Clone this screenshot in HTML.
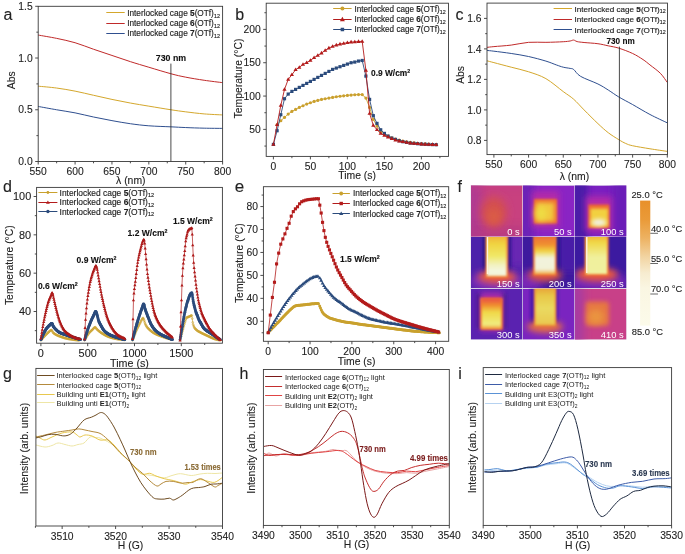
<!DOCTYPE html>
<html><head><meta charset="utf-8"><style>
html,body{margin:0;padding:0;background:#fff;}
svg{display:block;will-change:transform;}
text{font-family:"Liberation Sans", sans-serif;stroke-width:0.1px;}
</style></head><body>
<svg width="685" height="554" viewBox="0 0 685 554">
<rect width="685" height="554" fill="#fff"/>
<g>
<text x="3.5" y="19.5" font-size="16" text-anchor="start" font-weight="normal" fill="#222" stroke="#222" >a</text>
<path d="M38.2,86.18 C41.27,86.49 50.49,87.21 56.64,88.04 C62.79,88.87 68.93,89.94 75.08,91.14 C81.23,92.35 87.37,93.9 93.52,95.28 C99.67,96.66 105.81,98.13 111.96,99.42 C118.11,100.71 124.25,101.92 130.4,103.04 C136.55,104.16 142.08,105.02 148.84,106.15 C155.6,107.27 164.82,108.82 170.97,109.77 C177.11,110.72 180.19,111.15 185.72,111.84 C191.25,112.53 198.01,113.39 204.16,113.91 C210.31,114.42 219.53,114.77 222.6,114.94" stroke="#d4a72c" stroke-width="1" fill="none"/>
<path d="M38.2,35.06 C41.27,35.62 50.49,37.1 56.64,38.37 C62.79,39.65 68.93,40.91 75.08,42.72 C81.23,44.53 87.37,47.12 93.52,49.24 C99.67,51.36 105.81,53.38 111.96,55.45 C118.11,57.52 124.25,59.69 130.4,61.65 C136.55,63.62 142.08,65.22 148.84,67.24 C155.6,69.26 164.82,72.1 170.97,73.76 C177.11,75.42 180.19,76.09 185.72,77.17 C191.25,78.26 198.01,79.36 204.16,80.28 C210.31,81.19 219.53,82.26 222.6,82.66" stroke="#c02a2a" stroke-width="1" fill="none"/>
<path d="M38.2,106.46 C41.27,107.01 50.49,108.7 56.64,109.77 C62.79,110.84 68.93,111.66 75.08,112.87 C81.23,114.08 87.37,115.72 93.52,117.01 C99.67,118.3 105.81,119.51 111.96,120.63 C118.11,121.75 124.25,122.87 130.4,123.73 C136.55,124.6 142.08,125.29 148.84,125.8 C155.6,126.32 164.82,126.55 170.97,126.84 C177.11,127.13 180.19,127.34 185.72,127.56 C191.25,127.79 198.01,128.05 204.16,128.18 C210.31,128.32 219.53,128.36 222.6,128.39" stroke="#2f4f8f" stroke-width="1" fill="none"/>
<path d="M170.9,63.6V161.5" stroke="#2a2a2a" stroke-width="0.85"/>
<text x="170.97" y="61.2" font-size="8.8" text-anchor="middle" font-weight="bold" fill="#111" stroke="#111" >730 nm</text>
<path d="M106.3,12.5H124.7" stroke="#d4a72c" stroke-width="1.0"/>
<text x="127.2" y="15.8" font-size="8.26" fill="#222" stroke="#222" style="stroke-width:0.14px">Interlocked cage <tspan font-weight="bold">5</tspan>(OTf)<tspan font-size="5.45" dy="1.8">12</tspan></text>
<path d="M106.3,23.5H124.7" stroke="#c02a2a" stroke-width="1.0"/>
<text x="127.2" y="26.4" font-size="8.26" fill="#222" stroke="#222" style="stroke-width:0.14px">Interlocked cage <tspan font-weight="bold">6</tspan>(OTf)<tspan font-size="5.45" dy="1.8">12</tspan></text>
<path d="M106.3,33.5H124.7" stroke="#2f4f8f" stroke-width="1.0"/>
<text x="127.2" y="36.3" font-size="8.26" fill="#222" stroke="#222" style="stroke-width:0.14px">Interlocked cage <tspan font-weight="bold">7</tspan>(OTf)<tspan font-size="5.45" dy="1.8">12</tspan></text>
<rect x="38.2" y="6.3" width="184.4" height="155.2" fill="none" stroke="#3a3a3a" stroke-width="0.9"/>
<path d="M38.2,161.5v3 M75.08,161.5v3 M111.96,161.5v3 M148.84,161.5v3 M185.72,161.5v3 M222.6,161.5v3 M56.64,161.5v1.8 M93.52,161.5v1.8 M130.4,161.5v1.8 M167.28,161.5v1.8 M204.16,161.5v1.8" stroke="#3a3a3a" stroke-width="0.9" fill="none"/>
<text x="38.2" y="175.1" font-size="10.3" text-anchor="middle" font-weight="normal" fill="#222" stroke="#222" >550</text>
<text x="75.08" y="175.1" font-size="10.3" text-anchor="middle" font-weight="normal" fill="#222" stroke="#222" >600</text>
<text x="111.96" y="175.1" font-size="10.3" text-anchor="middle" font-weight="normal" fill="#222" stroke="#222" >650</text>
<text x="148.84" y="175.1" font-size="10.3" text-anchor="middle" font-weight="normal" fill="#222" stroke="#222" >700</text>
<text x="185.72" y="175.1" font-size="10.3" text-anchor="middle" font-weight="normal" fill="#222" stroke="#222" >750</text>
<text x="222.6" y="175.1" font-size="10.3" text-anchor="middle" font-weight="normal" fill="#222" stroke="#222" >800</text>
<path d="M38.2,161.5h-3 M38.2,109.77h-3 M38.2,58.03h-3 M38.2,6.3h-3 M38.2,135.63h-1.8 M38.2,83.9h-1.8 M38.2,32.17h-1.8" stroke="#3a3a3a" stroke-width="0.9" fill="none"/>
<text x="32.7" y="165.2" font-size="10.3" text-anchor="end" font-weight="normal" fill="#222" stroke="#222" >0.0</text>
<text x="32.7" y="113.47" font-size="10.3" text-anchor="end" font-weight="normal" fill="#222" stroke="#222" >0.5</text>
<text x="32.7" y="61.73" font-size="10.3" text-anchor="end" font-weight="normal" fill="#222" stroke="#222" >1.0</text>
<text x="32.7" y="10" font-size="10.3" text-anchor="end" font-weight="normal" fill="#222" stroke="#222" >1.5</text>
<text x="0" y="0" transform="translate(15,80.2) rotate(-90)" font-size="10.4" text-anchor="middle" fill="#222" stroke="#222">Abs</text>
<text x="130.8" y="184.4" font-size="10.4" text-anchor="middle" font-weight="normal" fill="#222" stroke="#222" >λ (nm)</text>
</g>
<g>
<text x="235.3" y="19.5" font-size="16" text-anchor="start" font-weight="normal" fill="#222" stroke="#222" >b</text>
<path d="M277.1,124.73 L280.8,120.73 L284.5,117.4 L288.2,114.07 L291.9,111.4 L295.6,109.4 L299.3,107.4 L303,105.73 L306.7,104.07 L310.4,102.73 L314.1,101.4 L317.8,100.4 L321.5,99.4 L325.2,98.73 L328.9,98.07 L332.6,97.4 L336.3,96.73 L340,96.27 L343.7,95.87 L347.4,95.4 L351.1,95.07 L354.8,94.73 L358.5,94.6 L362.2,94.6 L365.9,98.07 L369.6,107.4 L373.3,119.4 L377,126.07 L380.7,131.4 L384.4,134.07 L388.1,136.07 L391.8,137.73 L395.5,139.07 L399.2,140.07 L402.9,141.07 L406.6,141.73 L410.3,142.4 L414,142.87 L417.7,143.27 L421.4,143.67 L425.1,143.93 L428.8,144.2 L432.5,144.4 L436.2,144.6" stroke="#caa02e" stroke-width="0.9" fill="none"/>
<circle cx="277.1" cy="124.73" r="1.6" fill="#caa02e"/>
<circle cx="280.8" cy="120.73" r="1.6" fill="#caa02e"/>
<circle cx="284.5" cy="117.4" r="1.6" fill="#caa02e"/>
<circle cx="288.2" cy="114.07" r="1.6" fill="#caa02e"/>
<circle cx="291.9" cy="111.4" r="1.6" fill="#caa02e"/>
<circle cx="295.6" cy="109.4" r="1.6" fill="#caa02e"/>
<circle cx="299.3" cy="107.4" r="1.6" fill="#caa02e"/>
<circle cx="303" cy="105.73" r="1.6" fill="#caa02e"/>
<circle cx="306.7" cy="104.07" r="1.6" fill="#caa02e"/>
<circle cx="310.4" cy="102.73" r="1.6" fill="#caa02e"/>
<circle cx="314.1" cy="101.4" r="1.6" fill="#caa02e"/>
<circle cx="317.8" cy="100.4" r="1.6" fill="#caa02e"/>
<circle cx="321.5" cy="99.4" r="1.6" fill="#caa02e"/>
<circle cx="325.2" cy="98.73" r="1.6" fill="#caa02e"/>
<circle cx="328.9" cy="98.07" r="1.6" fill="#caa02e"/>
<circle cx="332.6" cy="97.4" r="1.6" fill="#caa02e"/>
<circle cx="336.3" cy="96.73" r="1.6" fill="#caa02e"/>
<circle cx="340" cy="96.27" r="1.6" fill="#caa02e"/>
<circle cx="343.7" cy="95.87" r="1.6" fill="#caa02e"/>
<circle cx="347.4" cy="95.4" r="1.6" fill="#caa02e"/>
<circle cx="351.1" cy="95.07" r="1.6" fill="#caa02e"/>
<circle cx="354.8" cy="94.73" r="1.6" fill="#caa02e"/>
<circle cx="358.5" cy="94.6" r="1.6" fill="#caa02e"/>
<circle cx="362.2" cy="94.6" r="1.6" fill="#caa02e"/>
<circle cx="365.9" cy="98.07" r="1.6" fill="#caa02e"/>
<circle cx="369.6" cy="107.4" r="1.6" fill="#caa02e"/>
<circle cx="373.3" cy="119.4" r="1.6" fill="#caa02e"/>
<circle cx="377" cy="126.07" r="1.6" fill="#caa02e"/>
<circle cx="380.7" cy="131.4" r="1.6" fill="#caa02e"/>
<circle cx="384.4" cy="134.07" r="1.6" fill="#caa02e"/>
<circle cx="388.1" cy="136.07" r="1.6" fill="#caa02e"/>
<circle cx="391.8" cy="137.73" r="1.6" fill="#caa02e"/>
<circle cx="395.5" cy="139.07" r="1.6" fill="#caa02e"/>
<circle cx="399.2" cy="140.07" r="1.6" fill="#caa02e"/>
<circle cx="402.9" cy="141.07" r="1.6" fill="#caa02e"/>
<circle cx="406.6" cy="141.73" r="1.6" fill="#caa02e"/>
<circle cx="410.3" cy="142.4" r="1.6" fill="#caa02e"/>
<circle cx="414" cy="142.87" r="1.6" fill="#caa02e"/>
<circle cx="417.7" cy="143.27" r="1.6" fill="#caa02e"/>
<circle cx="421.4" cy="143.67" r="1.6" fill="#caa02e"/>
<circle cx="425.1" cy="143.93" r="1.6" fill="#caa02e"/>
<circle cx="428.8" cy="144.2" r="1.6" fill="#caa02e"/>
<circle cx="432.5" cy="144.4" r="1.6" fill="#caa02e"/>
<circle cx="436.2" cy="144.6" r="1.6" fill="#caa02e"/>
<path d="M273.4,144.4 L277.1,130.73 L280.8,114.73 L284.5,98.73 L288.2,94.07 L291.9,91.4 L295.6,89.4 L299.3,87.4 L303,85.4 L306.7,83.4 L310.4,81.4 L314.1,79.4 L317.8,77.4 L321.5,75.4 L325.2,73.4 L328.9,71.4 L332.6,69.4 L336.3,68.07 L340,66.73 L343.7,65.4 L347.4,64.07 L351.1,62.73 L354.8,62.07 L358.5,61.07 L362.2,60.47 L365.9,76.07 L369.6,99.4 L373.3,115.67 L377,123.4 L380.7,129.8 L384.4,133.4 L388.1,136.07 L391.8,138.07 L395.5,139.4 L399.2,140.73 L402.9,141.73 L406.6,142.4 L410.3,143.07 L414,143.4 L417.7,143.73 L421.4,144.07 L425.1,144.27 L428.8,144.47 L432.5,144.6 L436.2,144.73" stroke="#2b4b7c" stroke-width="0.9" fill="none"/>
<rect x="271.8" y="142.8" width="3.2" height="3.2" fill="#2b4b7c"/>
<rect x="275.5" y="129.13" width="3.2" height="3.2" fill="#2b4b7c"/>
<rect x="279.2" y="113.13" width="3.2" height="3.2" fill="#2b4b7c"/>
<rect x="282.9" y="97.13" width="3.2" height="3.2" fill="#2b4b7c"/>
<rect x="286.6" y="92.47" width="3.2" height="3.2" fill="#2b4b7c"/>
<rect x="290.3" y="89.8" width="3.2" height="3.2" fill="#2b4b7c"/>
<rect x="294" y="87.8" width="3.2" height="3.2" fill="#2b4b7c"/>
<rect x="297.7" y="85.8" width="3.2" height="3.2" fill="#2b4b7c"/>
<rect x="301.4" y="83.8" width="3.2" height="3.2" fill="#2b4b7c"/>
<rect x="305.1" y="81.8" width="3.2" height="3.2" fill="#2b4b7c"/>
<rect x="308.8" y="79.8" width="3.2" height="3.2" fill="#2b4b7c"/>
<rect x="312.5" y="77.8" width="3.2" height="3.2" fill="#2b4b7c"/>
<rect x="316.2" y="75.8" width="3.2" height="3.2" fill="#2b4b7c"/>
<rect x="319.9" y="73.8" width="3.2" height="3.2" fill="#2b4b7c"/>
<rect x="323.6" y="71.8" width="3.2" height="3.2" fill="#2b4b7c"/>
<rect x="327.3" y="69.8" width="3.2" height="3.2" fill="#2b4b7c"/>
<rect x="331" y="67.8" width="3.2" height="3.2" fill="#2b4b7c"/>
<rect x="334.7" y="66.47" width="3.2" height="3.2" fill="#2b4b7c"/>
<rect x="338.4" y="65.13" width="3.2" height="3.2" fill="#2b4b7c"/>
<rect x="342.1" y="63.8" width="3.2" height="3.2" fill="#2b4b7c"/>
<rect x="345.8" y="62.47" width="3.2" height="3.2" fill="#2b4b7c"/>
<rect x="349.5" y="61.13" width="3.2" height="3.2" fill="#2b4b7c"/>
<rect x="353.2" y="60.47" width="3.2" height="3.2" fill="#2b4b7c"/>
<rect x="356.9" y="59.47" width="3.2" height="3.2" fill="#2b4b7c"/>
<rect x="360.6" y="58.87" width="3.2" height="3.2" fill="#2b4b7c"/>
<rect x="364.3" y="74.47" width="3.2" height="3.2" fill="#2b4b7c"/>
<rect x="368" y="97.8" width="3.2" height="3.2" fill="#2b4b7c"/>
<rect x="371.7" y="114.07" width="3.2" height="3.2" fill="#2b4b7c"/>
<rect x="375.4" y="121.8" width="3.2" height="3.2" fill="#2b4b7c"/>
<rect x="379.1" y="128.2" width="3.2" height="3.2" fill="#2b4b7c"/>
<rect x="382.8" y="131.8" width="3.2" height="3.2" fill="#2b4b7c"/>
<rect x="386.5" y="134.47" width="3.2" height="3.2" fill="#2b4b7c"/>
<rect x="390.2" y="136.47" width="3.2" height="3.2" fill="#2b4b7c"/>
<rect x="393.9" y="137.8" width="3.2" height="3.2" fill="#2b4b7c"/>
<rect x="397.6" y="139.13" width="3.2" height="3.2" fill="#2b4b7c"/>
<rect x="401.3" y="140.13" width="3.2" height="3.2" fill="#2b4b7c"/>
<rect x="405" y="140.8" width="3.2" height="3.2" fill="#2b4b7c"/>
<rect x="408.7" y="141.47" width="3.2" height="3.2" fill="#2b4b7c"/>
<rect x="412.4" y="141.8" width="3.2" height="3.2" fill="#2b4b7c"/>
<rect x="416.1" y="142.13" width="3.2" height="3.2" fill="#2b4b7c"/>
<rect x="419.8" y="142.47" width="3.2" height="3.2" fill="#2b4b7c"/>
<rect x="423.5" y="142.67" width="3.2" height="3.2" fill="#2b4b7c"/>
<rect x="427.2" y="142.87" width="3.2" height="3.2" fill="#2b4b7c"/>
<rect x="430.9" y="143" width="3.2" height="3.2" fill="#2b4b7c"/>
<rect x="434.6" y="143.13" width="3.2" height="3.2" fill="#2b4b7c"/>
<path d="M273.4,144.4 L277.1,124.73 L280.8,105.4 L284.5,89.4 L288.2,79.4 L291.9,74.73 L295.6,69.73 L299.3,67.4 L303,64.4 L306.7,62.73 L310.4,60.4 L314.1,57.73 L317.8,55.4 L321.5,53.07 L325.2,50.4 L328.9,48.07 L332.6,46.4 L336.3,45.07 L340,44.07 L343.7,43.4 L347.4,42.73 L351.1,42.07 L354.8,41.93 L358.5,41.53 L362.2,41.4 L365.9,70.4 L369.6,113.4 L373.3,125.4 L377,129.73 L380.7,133.4 L384.4,135.4 L388.1,137.07 L391.8,138.73 L395.5,140.07 L399.2,141.07 L402.9,141.73 L406.6,142.4 L410.3,143.07 L414,143.4 L417.7,143.73 L421.4,144.07 L425.1,144.27 L428.8,144.47 L432.5,144.6 L436.2,144.73" stroke="#b31b1b" stroke-width="0.9" fill="none"/>
<path d="M273.4,142.13L275.5,145.79L271.3,145.79Z" fill="#b31b1b"/>
<path d="M277.1,122.47L279.2,126.12L275,126.12Z" fill="#b31b1b"/>
<path d="M280.8,103.13L282.9,106.79L278.7,106.79Z" fill="#b31b1b"/>
<path d="M284.5,87.13L286.6,90.79L282.4,90.79Z" fill="#b31b1b"/>
<path d="M288.2,77.13L290.3,80.79L286.1,80.79Z" fill="#b31b1b"/>
<path d="M291.9,72.47L294,76.12L289.8,76.12Z" fill="#b31b1b"/>
<path d="M295.6,67.47L297.7,71.12L293.5,71.12Z" fill="#b31b1b"/>
<path d="M299.3,65.13L301.4,68.79L297.2,68.79Z" fill="#b31b1b"/>
<path d="M303,62.13L305.1,65.79L300.9,65.79Z" fill="#b31b1b"/>
<path d="M306.7,60.47L308.8,64.12L304.6,64.12Z" fill="#b31b1b"/>
<path d="M310.4,58.13L312.5,61.79L308.3,61.79Z" fill="#b31b1b"/>
<path d="M314.1,55.47L316.2,59.12L312,59.12Z" fill="#b31b1b"/>
<path d="M317.8,53.13L319.9,56.79L315.7,56.79Z" fill="#b31b1b"/>
<path d="M321.5,50.8L323.6,54.46L319.4,54.46Z" fill="#b31b1b"/>
<path d="M325.2,48.13L327.3,51.79L323.1,51.79Z" fill="#b31b1b"/>
<path d="M328.9,45.8L331,49.46L326.8,49.46Z" fill="#b31b1b"/>
<path d="M332.6,44.13L334.7,47.79L330.5,47.79Z" fill="#b31b1b"/>
<path d="M336.3,42.8L338.4,46.46L334.2,46.46Z" fill="#b31b1b"/>
<path d="M340,41.8L342.1,45.46L337.9,45.46Z" fill="#b31b1b"/>
<path d="M343.7,41.13L345.8,44.79L341.6,44.79Z" fill="#b31b1b"/>
<path d="M347.4,40.47L349.5,44.12L345.3,44.12Z" fill="#b31b1b"/>
<path d="M351.1,39.8L353.2,43.46L349,43.46Z" fill="#b31b1b"/>
<path d="M354.8,39.67L356.9,43.32L352.7,43.32Z" fill="#b31b1b"/>
<path d="M358.5,39.27L360.6,42.92L356.4,42.92Z" fill="#b31b1b"/>
<path d="M362.2,39.13L364.3,42.79L360.1,42.79Z" fill="#b31b1b"/>
<path d="M365.9,68.13L368,71.79L363.8,71.79Z" fill="#b31b1b"/>
<path d="M369.6,111.13L371.7,114.79L367.5,114.79Z" fill="#b31b1b"/>
<path d="M373.3,123.13L375.4,126.79L371.2,126.79Z" fill="#b31b1b"/>
<path d="M377,127.47L379.1,131.12L374.9,131.12Z" fill="#b31b1b"/>
<path d="M380.7,131.13L382.8,134.79L378.6,134.79Z" fill="#b31b1b"/>
<path d="M384.4,133.13L386.5,136.79L382.3,136.79Z" fill="#b31b1b"/>
<path d="M388.1,134.8L390.2,138.46L386,138.46Z" fill="#b31b1b"/>
<path d="M391.8,136.47L393.9,140.12L389.7,140.12Z" fill="#b31b1b"/>
<path d="M395.5,137.8L397.6,141.46L393.4,141.46Z" fill="#b31b1b"/>
<path d="M399.2,138.8L401.3,142.46L397.1,142.46Z" fill="#b31b1b"/>
<path d="M402.9,139.47L405,143.12L400.8,143.12Z" fill="#b31b1b"/>
<path d="M406.6,140.13L408.7,143.79L404.5,143.79Z" fill="#b31b1b"/>
<path d="M410.3,140.8L412.4,144.46L408.2,144.46Z" fill="#b31b1b"/>
<path d="M414,141.13L416.1,144.79L411.9,144.79Z" fill="#b31b1b"/>
<path d="M417.7,141.47L419.8,145.12L415.6,145.12Z" fill="#b31b1b"/>
<path d="M421.4,141.8L423.5,145.46L419.3,145.46Z" fill="#b31b1b"/>
<path d="M425.1,142L427.2,145.66L423,145.66Z" fill="#b31b1b"/>
<path d="M428.8,142.2L430.9,145.86L426.7,145.86Z" fill="#b31b1b"/>
<path d="M432.5,142.33L434.6,145.99L430.4,145.99Z" fill="#b31b1b"/>
<path d="M436.2,142.47L438.3,146.12L434.1,146.12Z" fill="#b31b1b"/>
<text x="371" y="76.3" font-size="8.4" font-weight="bold" fill="#111" stroke="#111" text-anchor="start">0.9 W/cm<tspan font-size="5.21" dy="-3.2">2</tspan></text>
<path d="M333.2,8.5H351.6" stroke="#caa02e" stroke-width="1.0"/>
<circle cx="342.4" cy="8.5" r="2" fill="#caa02e"/>
<text x="354.4" y="11.8" font-size="8.13" fill="#222" stroke="#222" style="stroke-width:0.14px">Interlocked cage <tspan font-weight="bold">5</tspan>(OTf)<tspan font-size="5.37" dy="1.8">12</tspan></text>
<path d="M333.2,19.5H351.6" stroke="#b31b1b" stroke-width="1.0"/>
<path d="M342.4,16.8L344.9,21.15L339.9,21.15Z" fill="#b31b1b"/>
<text x="354.4" y="22.1" font-size="8.13" fill="#222" stroke="#222" style="stroke-width:0.14px">Interlocked cage <tspan font-weight="bold">6</tspan>(OTf)<tspan font-size="5.37" dy="1.8">12</tspan></text>
<path d="M333.2,29.5H351.6" stroke="#2b4b7c" stroke-width="1.0"/>
<rect x="340.65" y="27.75" width="3.5" height="3.5" fill="#2b4b7c"/>
<text x="354.4" y="32.3" font-size="8.13" fill="#222" stroke="#222" style="stroke-width:0.14px">Interlocked cage <tspan font-weight="bold">7</tspan>(OTf)<tspan font-size="5.37" dy="1.8">12</tspan></text>
<rect x="266.2" y="3.2" width="182.3" height="153.2" fill="none" stroke="#3a3a3a" stroke-width="0.9"/>
<path d="M273.4,156.4v3 M310.4,156.4v3 M347.4,156.4v3 M384.4,156.4v3 M421.4,156.4v3 M291.9,156.4v1.8 M328.9,156.4v1.8 M365.9,156.4v1.8 M402.9,156.4v1.8 M439.9,156.4v1.8" stroke="#3a3a3a" stroke-width="0.9" fill="none"/>
<text x="273.4" y="170" font-size="10.3" text-anchor="middle" font-weight="normal" fill="#222" stroke="#222" >0</text>
<text x="310.4" y="170" font-size="10.3" text-anchor="middle" font-weight="normal" fill="#222" stroke="#222" >50</text>
<text x="347.4" y="170" font-size="10.3" text-anchor="middle" font-weight="normal" fill="#222" stroke="#222" >100</text>
<text x="384.4" y="170" font-size="10.3" text-anchor="middle" font-weight="normal" fill="#222" stroke="#222" >150</text>
<text x="421.4" y="170" font-size="10.3" text-anchor="middle" font-weight="normal" fill="#222" stroke="#222" >200</text>
<path d="M266.2,129.4h-3 M266.2,96.07h-3 M266.2,62.73h-3 M266.2,29.4h-3 M266.2,146.07h-1.8 M266.2,112.73h-1.8 M266.2,79.4h-1.8 M266.2,46.07h-1.8 M266.2,12.73h-1.8" stroke="#3a3a3a" stroke-width="0.9" fill="none"/>
<text x="260.7" y="133.1" font-size="10.3" text-anchor="end" font-weight="normal" fill="#222" stroke="#222" >50</text>
<text x="260.7" y="99.77" font-size="10.3" text-anchor="end" font-weight="normal" fill="#222" stroke="#222" >100</text>
<text x="260.7" y="66.43" font-size="10.3" text-anchor="end" font-weight="normal" fill="#222" stroke="#222" >150</text>
<text x="260.7" y="33.1" font-size="10.3" text-anchor="end" font-weight="normal" fill="#222" stroke="#222" >200</text>
<text x="0" y="0" transform="translate(242.1,78.5) rotate(-90)" font-size="10.4" text-anchor="middle" fill="#222" stroke="#222">Temperature (°C)</text>
<text x="357.1" y="178.7" font-size="10.4" text-anchor="middle" font-weight="normal" fill="#222" stroke="#222" >Time (s)</text>
</g>
<g>
<text x="455.5" y="19.5" font-size="16" text-anchor="start" font-weight="normal" fill="#222" stroke="#222" >c</text>
<path d="M486.96,60.79 C488.12,61.1 489.85,61.56 493.9,62.62 C497.95,63.69 505.46,65.67 511.24,67.2 C517.02,68.72 522.8,69.87 528.58,71.78 C534.36,73.68 540.14,75.33 545.92,78.64 C551.7,81.94 558.64,88.17 563.26,91.6 C567.88,95.03 570.2,96.17 573.66,99.22 C577.13,102.27 580.02,105.83 584.07,109.9 C588.11,113.97 593.89,119.81 597.94,123.62 C601.99,127.44 604.88,130.11 608.34,132.78 C611.81,135.44 615.86,137.86 618.75,139.64 C621.64,141.42 623.37,142.43 625.68,143.45 C628,144.47 628.57,144.85 632.62,145.74 C636.67,146.63 644.18,147.85 649.96,148.79 C655.74,149.73 664.41,150.95 667.3,151.38" stroke="#d4a72c" stroke-width="1" fill="none"/>
<path d="M486.96,47.38 C488.12,47.25 489.85,46.99 493.9,46.61 C497.95,46.23 505.46,45.8 511.24,45.09 C517.02,44.38 522.8,42.8 528.58,42.34 C534.36,41.88 540.14,42.44 545.92,42.34 C551.7,42.24 559.21,41.96 563.26,41.73 C567.31,41.5 568.46,41.25 570.2,40.97 C571.93,40.69 572.51,39.95 573.66,40.06 C574.82,40.16 575.4,41.17 577.13,41.58 C578.87,41.99 580.6,42.14 584.07,42.5 C587.54,42.85 593.89,43.16 597.94,43.72 C601.99,44.27 604.88,45.11 608.34,45.85 C611.81,46.59 614.7,46.87 618.75,48.14 C622.79,49.41 628.57,51.57 632.62,53.47 C636.67,55.38 640.13,57.67 643.02,59.57 C645.91,61.48 647.07,62.62 649.96,64.91 C652.85,67.2 657.47,70.38 660.36,73.3 C663.25,76.22 666.14,80.93 667.3,82.45" stroke="#c02a2a" stroke-width="1" fill="none"/>
<path d="M486.96,50.43 C488.12,50.55 489.85,50.68 493.9,51.19 C497.95,51.7 505.46,52.59 511.24,53.47 C517.02,54.36 522.8,55.25 528.58,56.52 C534.36,57.8 541.3,59.7 545.92,61.1 C550.54,62.5 553.43,63.9 556.32,64.91 C559.21,65.93 560.95,66.62 563.26,67.2 C565.57,67.78 568.46,68.04 570.2,68.42 C571.93,68.8 571.93,68.17 573.66,69.49 C575.4,70.81 576.55,73.94 580.6,76.35 C584.65,78.76 593.32,81.69 597.94,83.98 C602.56,86.26 604.88,87.91 608.34,90.08 C611.81,92.24 614.7,94.52 618.75,96.94 C622.79,99.35 627.42,101.64 632.62,104.56 C637.82,107.49 644.18,111.43 649.96,114.48 C655.74,117.53 664.41,121.46 667.3,122.86" stroke="#2f4f8f" stroke-width="1" fill="none"/>
<path d="M619.4,46.6V154.6" stroke="#2a2a2a" stroke-width="0.85"/>
<text x="620.6" y="43.6" font-size="8.2" text-anchor="middle" font-weight="bold" fill="#111" stroke="#111" >730 nm</text>
<path d="M553.6,8.5H572" stroke="#d4a72c" stroke-width="1.0"/>
<text x="574.6" y="11.5" font-size="8.12" fill="#222" stroke="#222" style="stroke-width:0.14px">Interlocked cage <tspan font-weight="bold">5</tspan>(OTf)<tspan font-size="5.36" dy="1.8">12</tspan></text>
<path d="M553.6,19.5H572" stroke="#c02a2a" stroke-width="1.0"/>
<text x="574.6" y="21.9" font-size="8.12" fill="#222" stroke="#222" style="stroke-width:0.14px">Interlocked cage <tspan font-weight="bold">6</tspan>(OTf)<tspan font-size="5.36" dy="1.8">12</tspan></text>
<path d="M553.6,29.5H572" stroke="#2f4f8f" stroke-width="1.0"/>
<text x="574.6" y="32.5" font-size="8.12" fill="#222" stroke="#222" style="stroke-width:0.14px">Interlocked cage <tspan font-weight="bold">7</tspan>(OTf)<tspan font-size="5.36" dy="1.8">12</tspan></text>
<rect x="487" y="3.1" width="180.5" height="151.5" fill="none" stroke="#3a3a3a" stroke-width="0.9"/>
<path d="M493.9,154.6v3 M528.58,154.6v3 M563.26,154.6v3 M597.94,154.6v3 M632.62,154.6v3 M667.3,154.6v3 M511.24,154.6v1.8 M545.92,154.6v1.8 M580.6,154.6v1.8 M615.28,154.6v1.8 M649.96,154.6v1.8" stroke="#3a3a3a" stroke-width="0.9" fill="none"/>
<text x="493.9" y="168.2" font-size="10.3" text-anchor="middle" font-weight="normal" fill="#222" stroke="#222" >550</text>
<text x="528.58" y="168.2" font-size="10.3" text-anchor="middle" font-weight="normal" fill="#222" stroke="#222" >600</text>
<text x="563.26" y="168.2" font-size="10.3" text-anchor="middle" font-weight="normal" fill="#222" stroke="#222" >650</text>
<text x="597.94" y="168.2" font-size="10.3" text-anchor="middle" font-weight="normal" fill="#222" stroke="#222" >700</text>
<text x="632.62" y="168.2" font-size="10.3" text-anchor="middle" font-weight="normal" fill="#222" stroke="#222" >750</text>
<text x="667.3" y="168.2" font-size="10.3" text-anchor="middle" font-weight="normal" fill="#222" stroke="#222" >800</text>
<path d="M487,140.4h-3 M487,109.9h-3 M487,79.4h-3 M487,48.9h-3 M487,18.4h-3 M487,125.15h-1.8 M487,94.65h-1.8 M487,64.15h-1.8 M487,33.65h-1.8" stroke="#3a3a3a" stroke-width="0.9" fill="none"/>
<text x="481.5" y="144.1" font-size="10.3" text-anchor="end" font-weight="normal" fill="#222" stroke="#222" >0.8</text>
<text x="481.5" y="113.6" font-size="10.3" text-anchor="end" font-weight="normal" fill="#222" stroke="#222" >1.0</text>
<text x="481.5" y="83.1" font-size="10.3" text-anchor="end" font-weight="normal" fill="#222" stroke="#222" >1.2</text>
<text x="481.5" y="52.6" font-size="10.3" text-anchor="end" font-weight="normal" fill="#222" stroke="#222" >1.4</text>
<text x="481.5" y="22.1" font-size="10.3" text-anchor="end" font-weight="normal" fill="#222" stroke="#222" >1.6</text>
<text x="0" y="0" transform="translate(464,74.9) rotate(-90)" font-size="10.4" text-anchor="middle" fill="#222" stroke="#222">Abs</text>
<text x="574.4" y="179.5" font-size="10.4" text-anchor="middle" font-weight="normal" fill="#222" stroke="#222" >λ (nm)</text>
</g>
<defs>
<marker id="mtr" markerUnits="userSpaceOnUse" markerWidth="6" markerHeight="6" refX="3" refY="3" overflow="visible"><path d="M3,1.4L4.6,4.2H1.4Z" fill="#ad1a1a"/></marker>
<marker id="mtr2" markerUnits="userSpaceOnUse" markerWidth="6" markerHeight="6" refX="3" refY="3" overflow="visible"><path d="M3,1.25L4.7,4.25H1.3Z" fill="#b31b1b"/></marker>
<marker id="mci" markerUnits="userSpaceOnUse" markerWidth="6" markerHeight="6" refX="3" refY="3" overflow="visible"><circle cx="3" cy="3" r="1.45" fill="#2b4b7c"/></marker>
<marker id="myc" markerUnits="userSpaceOnUse" markerWidth="6" markerHeight="6" refX="3" refY="3" overflow="visible"><circle cx="3" cy="3" r="0.9" fill="none" stroke="#c9a12e" stroke-width="0.55"/></marker>
<marker id="msq" markerUnits="userSpaceOnUse" markerWidth="6" markerHeight="6" refX="3" refY="3" overflow="visible"><rect x="1.45" y="1.45" width="3.1" height="3.1" fill="#b31b1b"/></marker>
<marker id="mbt" markerUnits="userSpaceOnUse" markerWidth="6" markerHeight="6" refX="3" refY="3" overflow="visible"><path d="M3,1.1L4.9,4.4H1.1Z" fill="#2b4b7c"/></marker>
<marker id="mye" markerUnits="userSpaceOnUse" markerWidth="6" markerHeight="6" refX="3" refY="3" overflow="visible"><circle cx="3" cy="3" r="1.5" fill="#c9a12e"/></marker>
</defs>
<g>
<text x="3" y="191.8" font-size="16" text-anchor="start" font-weight="normal" fill="#222" stroke="#222" >d</text>
<polyline points="40.9,340.25 41.37,339.72 41.84,339.18 42.3,338.64 42.77,338.11 43.24,337.57 43.71,337.05 44.18,336.53 44.64,336.03 45.11,335.55 45.58,335.06 46.05,334.59 46.52,334.13 46.98,333.68 47.45,333.23 47.92,332.81 48.39,332.39 48.86,331.95 49.32,331.48 49.79,331.02 50.26,330.61 50.73,330.29 51.2,330.12 51.66,330.17 52.13,330.86 52.6,331.84 53.07,332.58 53.54,333.02 54,333.41 54.47,333.76 54.94,334.07 55.41,334.36 55.88,334.63 56.34,334.88 56.81,335.12 57.28,335.35 57.75,335.55 58.22,335.75 58.68,335.94 59.15,336.12 59.62,336.29 60.09,336.46 60.56,336.63 61.02,336.8 61.49,336.97 61.96,337.14 62.43,337.31 62.9,337.47 63.36,337.63 63.83,337.79 64.3,337.93 64.77,338.07 65.24,338.2 65.7,338.31 66.17,338.42 66.64,338.51 67.11,338.61 67.58,338.7 68.04,338.79 68.51,338.87 68.98,338.95 69.45,339.03 69.92,339.1 70.38,339.17 70.85,339.24 71.32,339.31 71.79,339.38 72.26,339.45 72.72,339.52 73.19,339.58 73.66,339.65 74.13,339.71 74.6,339.77 75.06,339.83 75.53,339.88 76,339.93 76.47,339.98 76.94,340.02 77.4,340.07 77.87,340.11 78.34,340.16 78.81,340.2 79.28,340.25" fill="none" stroke="#c9a12e" stroke-width="0.6" marker-start="url(#myc)" marker-mid="url(#myc)" marker-end="url(#myc)"/>
<polyline points="40.9,339.87 41.18,339.21 41.46,338.53 41.74,337.85 42.02,337.17 42.3,336.49 42.58,335.82 42.87,335.17 43.15,334.53 43.43,333.92 43.71,333.35 43.99,332.8 44.27,332.26 44.55,331.74 44.83,331.24 45.11,330.74 45.39,330.27 45.67,329.81 45.95,329.38 46.24,328.96 46.52,328.56 46.8,328.18 47.08,327.82 47.36,327.48 47.64,327.17 47.92,326.88 48.2,326.6 48.48,326.33 48.76,326.07 49.04,325.81 49.32,325.57 49.6,325.32 49.89,325.07 50.17,324.81 50.45,324.53 50.73,324.2 51.01,323.86 51.29,323.56 51.57,323.38 51.85,323.35 52.13,323.57 52.41,324.13 52.69,324.88 52.97,325.64 53.26,326.26 53.54,326.73 53.82,327.16 54.1,327.55 54.38,327.92 54.66,328.25 54.94,328.56 55.22,328.85 55.5,329.14 55.78,329.44 56.06,329.73 56.34,330.01 56.62,330.29 56.91,330.56 57.19,330.83 57.47,331.08 57.75,331.32 58.03,331.55 58.31,331.77 58.59,331.96 58.87,332.14 59.15,332.31 59.43,332.46 59.71,332.61 59.99,332.75 60.28,332.88 60.56,333.01 60.84,333.13 61.12,333.25 61.4,333.37 61.68,333.47 61.96,333.58 62.24,333.68 62.52,333.78 62.8,333.88 63.08,333.97 63.36,334.07 63.64,334.16 63.93,334.25 64.21,334.34 64.49,334.43 64.77,334.53 65.05,334.62 65.33,334.72 65.61,334.82 65.89,334.92 66.17,335.02 66.45,335.12 66.73,335.22 67.01,335.31 67.3,335.41 67.58,335.51 67.86,335.6 68.14,335.7 68.42,335.79 68.7,335.89 68.98,335.98 69.26,336.08 69.54,336.17 69.82,336.26 70.1,336.35 70.38,336.45 70.66,336.54 70.95,336.63 71.23,336.72 71.51,336.81 71.79,336.9 72.07,336.99 72.35,337.08 72.63,337.17 72.91,337.26 73.19,337.35 73.47,337.45 73.75,337.54 74.03,337.63 74.32,337.72 74.6,337.81 74.88,337.9 75.16,337.99 75.44,338.07 75.72,338.16 76,338.25 76.28,338.34 76.56,338.43 76.84,338.51 77.12,338.6 77.4,338.69 77.68,338.78 77.97,338.86 78.25,338.95 78.53,339.04 78.81,339.12 79.09,339.21 79.37,339.3 79.65,339.38 79.93,339.47 80.21,339.56 80.49,339.65" fill="none" stroke="#2b4b7c" stroke-width="1.0" marker-start="url(#mci)" marker-mid="url(#mci)" marker-end="url(#mci)"/>
<polyline points="40.9,338.33 41.37,335.4 41.84,332.43 42.3,329.53 42.77,326.83 43.24,324.31 43.71,321.85 44.18,319.47 44.64,317.17 45.11,314.94 45.58,312.8 46.05,310.72 46.52,308.7 46.98,306.76 47.45,304.93 47.92,303.24 48.39,301.71 48.86,300.38 49.32,299.2 49.79,298.12 50.26,297.08 50.73,296.03 51.2,294.8 51.66,293.39 52.13,292.68 52.6,293.49 53.07,295.4 53.54,297.51 54,299.57 54.47,301.76 54.94,303.83 55.41,305.77 55.88,307.7 56.34,309.6 56.81,311.44 57.28,313.22 57.75,314.9 58.22,316.52 58.68,318.08 59.15,319.56 59.62,320.93 60.09,322.17 60.56,323.26 61.02,324.31 61.49,325.31 61.96,326.26 62.43,327.16 62.9,328.01 63.36,328.79 63.83,329.51 64.3,330.16 64.77,330.75 65.24,331.28 65.7,331.77 66.17,332.22 66.64,332.63 67.11,333.01 67.58,333.37 68.04,333.71 68.51,334.03 68.98,334.34 69.45,334.64 69.92,334.94 70.38,335.24 70.85,335.52 71.32,335.79 71.79,336.05 72.26,336.3 72.72,336.53 73.19,336.76 73.66,336.98 74.13,337.19 74.6,337.39 75.06,337.59 75.53,337.78 76,337.96 76.47,338.14 76.94,338.3 77.4,338.43 77.87,338.52 78.34,338.6 78.81,338.67 79.28,338.73 79.74,338.8 80.21,338.87" fill="none" stroke="#b01a1a" stroke-width="0.7" marker-start="url(#mtr)" marker-mid="url(#mtr)" marker-end="url(#mtr)"/>
<polyline points="84.61,340.25 85.08,339.46 85.55,338.64 86.02,337.81 86.48,336.99 86.95,336.17 87.42,335.39 87.89,334.64 88.36,333.93 88.82,333.29 89.29,332.72 89.76,332.19 90.23,331.71 90.7,331.26 91.16,330.83 91.63,330.41 92.1,329.98 92.57,329.52 93.04,329.01 93.5,328.49 93.97,328 94.44,327.59 94.91,327.3 95.38,327.25 95.84,327.81 96.31,328.59 96.78,329.12 97.25,329.55 97.72,329.99 98.18,330.41 98.65,330.83 99.12,331.23 99.59,331.61 100.06,331.98 100.52,332.32 100.99,332.65 101.46,332.96 101.93,333.26 102.4,333.56 102.86,333.86 103.33,334.14 103.8,334.42 104.27,334.69 104.74,334.96 105.2,335.21 105.67,335.46 106.14,335.69 106.61,335.92 107.08,336.14 107.54,336.34 108.01,336.53 108.48,336.71 108.95,336.89 109.42,337.05 109.88,337.21 110.35,337.36 110.82,337.51 111.29,337.65 111.76,337.78 112.22,337.9 112.69,338.03 113.16,338.14 113.63,338.25 114.1,338.36 114.56,338.46 115.03,338.56 115.5,338.66 115.97,338.75 116.44,338.84 116.9,338.92 117.37,339 117.84,339.07 118.31,339.14 118.78,339.2 119.24,339.25 119.71,339.31 120.18,339.36 120.65,339.41 121.12,339.46 121.58,339.51 122.05,339.56 122.52,339.6 122.99,339.65 123.46,339.7 123.92,339.75 124.39,339.81 124.86,339.87" fill="none" stroke="#c9a12e" stroke-width="0.6" marker-start="url(#myc)" marker-mid="url(#myc)" marker-end="url(#myc)"/>
<polyline points="84.61,339.87 84.89,338.93 85.17,337.99 85.45,337.03 85.73,336.07 86.02,335.11 86.3,334.16 86.58,333.22 86.86,332.3 87.14,331.41 87.42,330.54 87.7,329.71 87.98,328.91 88.26,328.12 88.54,327.36 88.82,326.61 89.1,325.87 89.38,325.15 89.67,324.44 89.95,323.74 90.23,323.05 90.51,322.36 90.79,321.69 91.07,321.01 91.35,320.35 91.63,319.69 91.91,319.05 92.19,318.43 92.47,317.83 92.75,317.24 93.04,316.66 93.32,316.08 93.6,315.51 93.88,314.95 94.16,314.37 94.44,313.76 94.72,313.04 95,312.34 95.28,311.78 95.56,311.51 95.84,311.62 96.12,312.06 96.4,312.74 96.69,313.57 96.97,314.46 97.25,315.41 97.53,316.56 97.81,317.81 98.09,319.01 98.37,320.04 98.65,320.83 98.93,321.54 99.21,322.2 99.49,322.81 99.77,323.39 100.06,323.94 100.34,324.47 100.62,324.98 100.9,325.49 101.18,326 101.46,326.51 101.74,327.02 102.02,327.52 102.3,328.01 102.58,328.48 102.86,328.94 103.14,329.38 103.42,329.79 103.71,330.18 103.99,330.54 104.27,330.86 104.55,331.15 104.83,331.43 105.11,331.7 105.39,331.95 105.67,332.19 105.95,332.42 106.23,332.64 106.51,332.84 106.79,333.04 107.08,333.23 107.36,333.41 107.64,333.59 107.92,333.76 108.2,333.92 108.48,334.08 108.76,334.24 109.04,334.4 109.32,334.55 109.6,334.7 109.88,334.85 110.16,334.99 110.44,335.13 110.73,335.26 111.01,335.39 111.29,335.51 111.57,335.64 111.85,335.75 112.13,335.87 112.41,335.98 112.69,336.09 112.97,336.2 113.25,336.31 113.53,336.41 113.81,336.51 114.1,336.61 114.38,336.71 114.66,336.81 114.94,336.9 115.22,337 115.5,337.09 115.78,337.18 116.06,337.28 116.34,337.37 116.62,337.45 116.9,337.54 117.18,337.63 117.46,337.71 117.75,337.79 118.03,337.87 118.31,337.95 118.59,338.03 118.87,338.11 119.15,338.18 119.43,338.26 119.71,338.33 119.99,338.41 120.27,338.48 120.55,338.55 120.83,338.63 121.12,338.7 121.4,338.77 121.68,338.84 121.96,338.91 122.24,338.99 122.52,339.06 122.8,339.13 123.08,339.2 123.36,339.28 123.64,339.35 123.92,339.42 124.2,339.5 124.48,339.57 124.77,339.65" fill="none" stroke="#2b4b7c" stroke-width="1.0" marker-start="url(#mci)" marker-mid="url(#mci)" marker-end="url(#mci)"/>
<polyline points="84.61,339.1 85.08,327.71 85.55,319.54 86.02,313.4 86.48,308.05 86.95,303.41 87.42,299.35 87.89,295.72 88.36,292.43 88.82,289.45 89.29,286.71 89.76,284.18 90.23,281.91 90.7,279.93 91.16,278.15 91.63,276.51 92.1,274.94 92.57,273.41 93.04,272.04 93.5,270.8 93.97,269.63 94.44,268.49 94.91,267.3 95.38,266.02 95.84,265.5 96.31,266.18 96.78,267.63 97.25,269.64 97.72,272.35 98.18,275.29 98.65,278.09 99.12,280.96 99.59,283.85 100.06,286.67 100.52,289.36 100.99,291.86 101.46,294.23 101.93,296.53 102.4,298.76 102.86,300.91 103.33,302.99 103.8,304.98 104.27,306.9 104.74,308.76 105.2,310.56 105.67,312.29 106.14,313.95 106.61,315.51 107.08,316.96 107.54,318.29 108.01,319.5 108.48,320.64 108.95,321.73 109.42,322.77 109.88,323.75 110.35,324.69 110.82,325.59 111.29,326.45 111.76,327.28 112.22,328.07 112.69,328.84 113.16,329.57 113.63,330.27 114.1,330.92 114.56,331.54 115.03,332.12 115.5,332.67 115.97,333.18 116.44,333.67 116.9,334.11 117.37,334.53 117.84,334.93 118.31,335.29 118.78,335.62 119.24,335.92 119.71,336.19 120.18,336.44 120.65,336.68 121.12,336.89 121.58,337.1 122.05,337.3 122.52,337.49 122.99,337.68 123.46,337.88 123.92,338.08 124.39,338.3 124.86,338.53" fill="none" stroke="#b01a1a" stroke-width="0.7" marker-start="url(#mtr)" marker-mid="url(#mtr)" marker-end="url(#mtr)"/>
<polyline points="132.53,340.25 133,339.07 133.47,337.87 133.94,336.67 134.41,335.47 134.87,334.28 135.34,333.12 135.81,331.98 136.28,330.88 136.75,329.83 137.21,328.81 137.68,327.82 138.15,326.86 138.62,325.92 139.09,325 139.55,324.09 140.02,323.18 140.49,322.25 140.96,321.29 141.43,320.34 141.89,319.45 142.36,318.69 142.83,318.11 143.3,318.2 143.77,319.31 144.23,320.67 144.7,322.3 145.17,323.74 145.64,324.75 146.11,325.65 146.57,326.44 147.04,327.12 147.51,327.69 147.98,328.18 148.45,328.65 148.91,329.12 149.38,329.57 149.85,330 150.32,330.42 150.79,330.83 151.25,331.21 151.72,331.59 152.19,331.94 152.66,332.27 153.13,332.59 153.59,332.88 154.06,333.16 154.53,333.42 155,333.66 155.47,333.9 155.93,334.13 156.4,334.35 156.87,334.56 157.34,334.77 157.81,334.96 158.27,335.16 158.74,335.34 159.21,335.52 159.68,335.7 160.15,335.87 160.61,336.04 161.08,336.21 161.55,336.37 162.02,336.53 162.49,336.69 162.95,336.85 163.42,337.01 163.89,337.18 164.36,337.34 164.83,337.5 165.29,337.66 165.76,337.82 166.23,337.97 166.7,338.11 167.17,338.25 167.63,338.38 168.1,338.51 168.57,338.64 169.04,338.76 169.51,338.88 169.97,339 170.44,339.12 170.91,339.25 171.38,339.37 171.85,339.49 172.31,339.62" fill="none" stroke="#c9a12e" stroke-width="0.6" marker-start="url(#myc)" marker-mid="url(#myc)" marker-end="url(#myc)"/>
<polyline points="132.53,339.87 132.82,338.78 133.1,337.69 133.38,336.59 133.66,335.49 133.94,334.39 134.22,333.3 134.5,332.21 134.78,331.15 135.06,330.1 135.34,329.08 135.62,328.09 135.9,327.1 136.18,326.13 136.47,325.16 136.75,324.2 137.03,323.26 137.31,322.32 137.59,321.39 137.87,320.47 138.15,319.56 138.43,318.65 138.71,317.76 138.99,316.88 139.27,316 139.55,315.14 139.84,314.3 140.12,313.46 140.4,312.65 140.68,311.84 140.96,311.04 141.24,310.25 141.52,309.47 141.8,308.7 142.08,307.92 142.36,307.16 142.64,306.33 142.92,305.36 143.2,304.5 143.49,304.01 143.77,304.14 144.05,304.81 144.33,305.81 144.61,307 144.89,308.21 145.17,309.28 145.45,310.14 145.73,310.95 146.01,311.74 146.29,312.51 146.57,313.25 146.86,313.99 147.14,314.71 147.42,315.43 147.7,316.15 147.98,316.88 148.26,317.61 148.54,318.34 148.82,319.07 149.1,319.8 149.38,320.51 149.66,321.21 149.94,321.89 150.22,322.54 150.51,323.17 150.79,323.77 151.07,324.33 151.35,324.86 151.63,325.37 151.91,325.86 152.19,326.32 152.47,326.76 152.75,327.19 153.03,327.59 153.31,327.98 153.59,328.35 153.88,328.71 154.16,329.06 154.44,329.39 154.72,329.71 155,330.01 155.28,330.31 155.56,330.59 155.84,330.86 156.12,331.12 156.4,331.37 156.68,331.62 156.96,331.85 157.24,332.08 157.53,332.3 157.81,332.51 158.09,332.72 158.37,332.92 158.65,333.12 158.93,333.31 159.21,333.49 159.49,333.67 159.77,333.85 160.05,334.02 160.33,334.18 160.61,334.34 160.9,334.5 161.18,334.65 161.46,334.8 161.74,334.94 162.02,335.09 162.3,335.23 162.58,335.37 162.86,335.5 163.14,335.64 163.42,335.77 163.7,335.9 163.98,336.03 164.26,336.16 164.55,336.29 164.83,336.42 165.11,336.54 165.39,336.67 165.67,336.79 165.95,336.91 166.23,337.03 166.51,337.15 166.79,337.27 167.07,337.39 167.35,337.51 167.63,337.63 167.92,337.75 168.2,337.87 168.48,337.98 168.76,338.1 169.04,338.22 169.32,338.33 169.6,338.45 169.88,338.57 170.16,338.68 170.44,338.8 170.72,338.92 171,339.04 171.28,339.15 171.57,339.27 171.85,339.39 172.13,339.51 172.41,339.63" fill="none" stroke="#2b4b7c" stroke-width="1.0" marker-start="url(#mci)" marker-mid="url(#mci)" marker-end="url(#mci)"/>
<polyline points="132.53,338.72 133,319.09 133.47,300.13 133.94,293.38 134.41,288.77 134.87,285.01 135.34,281.52 135.81,277.73 136.28,273.68 136.75,269.68 137.21,265.92 137.68,262.62 138.15,259.88 138.62,257.41 139.09,255.15 139.55,253.05 140.02,251.08 140.49,249.21 140.96,247.4 141.43,245.63 141.89,243.92 142.36,242.36 142.83,241.03 143.3,239.99 143.77,239.37 144.23,240.35 144.7,243.24 145.17,248.41 145.64,253.86 146.11,259.07 146.57,264.34 147.04,269.33 147.51,273.73 147.98,277.46 148.45,280.92 148.91,284.16 149.38,287.22 149.85,290.12 150.32,292.91 150.79,295.63 151.25,298.29 151.72,300.87 152.19,303.33 152.66,305.66 153.13,307.81 153.59,309.77 154.06,311.5 154.53,313.04 155,314.47 155.47,315.78 155.93,316.99 156.4,318.11 156.87,319.15 157.34,320.12 157.81,321.04 158.27,321.9 158.74,322.72 159.21,323.5 159.68,324.24 160.15,324.95 160.61,325.62 161.08,326.26 161.55,326.87 162.02,327.46 162.49,328.03 162.95,328.58 163.42,329.11 163.89,329.64 164.36,330.15 164.83,330.66 165.29,331.16 165.76,331.64 166.23,332.09 166.7,332.54 167.17,332.96 167.63,333.37 168.1,333.77 168.57,334.16 169.04,334.54 169.51,334.92 169.97,335.29 170.44,335.67 170.91,336.05 171.38,336.43 171.85,336.82 172.31,337.21" fill="none" stroke="#b01a1a" stroke-width="0.7" marker-start="url(#mtr)" marker-mid="url(#mtr)" marker-end="url(#mtr)"/>
<polyline points="180.08,339.87 180.55,338.18 181.02,336.5 181.49,334.81 181.96,333.14 182.42,331.46 182.89,329.72 183.36,327.93 183.83,326.13 184.3,324.38 184.76,322.72 185.23,321.15 185.7,319.63 186.17,318.25 186.64,317.6 187.1,317.37 187.57,317.19 188.04,317.04 188.51,316.88 188.98,316.68 189.44,316.46 189.91,316.25 190.38,316.07 190.85,315.77 191.32,315.49 191.78,315.53 192.25,318.6 192.72,322.38 193.19,324.59 193.66,325.99 194.12,327.05 194.59,327.94 195.06,328.55 195.53,329.03 196,329.49 196.46,329.93 196.93,330.33 197.4,330.7 197.87,331.05 198.34,331.34 198.8,331.57 199.27,331.78 199.74,332.01 200.21,332.26 200.68,332.52 201.14,332.78 201.61,333.04 202.08,333.29 202.55,333.52 203.02,333.75 203.48,333.96 203.95,334.18 204.42,334.39 204.89,334.61 205.36,334.83 205.82,335.05 206.29,335.27 206.76,335.49 207.23,335.7 207.7,335.92 208.16,336.14 208.63,336.36 209.1,336.58 209.57,336.8 210.04,337.02 210.5,337.25 210.97,337.47 211.44,337.69 211.91,337.9 212.38,338.1 212.84,338.3 213.31,338.49 213.78,338.67 214.25,338.83 214.72,338.98 215.18,339.12 215.65,339.25 216.12,339.37 216.59,339.48 217.06,339.59 217.52,339.7 217.99,339.8 218.46,339.89 218.93,339.98 219.4,340.07 219.86,340.15 220.33,340.24" fill="none" stroke="#c9a12e" stroke-width="0.6" marker-start="url(#myc)" marker-mid="url(#myc)" marker-end="url(#myc)"/>
<polyline points="180.08,339.87 180.36,338.04 180.64,336.21 180.93,334.42 181.21,332.69 181.49,331.04 181.77,329.42 182.05,327.79 182.33,326.15 182.61,324.5 182.89,322.84 183.17,321.18 183.45,319.56 183.73,318.01 184.01,316.5 184.3,315.04 184.58,313.65 184.86,312.32 185.14,311.03 185.42,309.78 185.7,308.56 185.98,307.37 186.26,306.19 186.54,305.06 186.82,303.97 187.1,302.96 187.38,302.05 187.66,301.22 187.95,300.38 188.23,299.54 188.51,298.7 188.79,297.9 189.07,297.12 189.35,296.36 189.63,295.65 189.91,295.02 190.19,294.49 190.47,294.05 190.75,293.67 191.03,293.33 191.32,293.14 191.6,292.88 191.88,292.91 192.16,294.14 192.44,295.91 192.72,297.87 193,299.8 193.28,301.49 193.56,302.89 193.84,304.12 194.12,305.27 194.4,306.43 194.68,307.6 194.97,308.76 195.25,309.85 195.53,310.84 195.81,311.71 196.09,312.49 196.37,313.22 196.65,313.91 196.93,314.59 197.21,315.28 197.49,316.01 197.77,316.78 198.05,317.56 198.34,318.34 198.62,319.08 198.9,319.78 199.18,320.39 199.46,320.93 199.74,321.41 200.02,321.86 200.3,322.3 200.58,322.76 200.86,323.25 201.14,323.77 201.42,324.3 201.7,324.84 201.99,325.36 202.27,325.85 202.55,326.32 202.83,326.78 203.11,327.23 203.39,327.66 203.67,328.06 203.95,328.42 204.23,328.75 204.51,329.02 204.79,329.26 205.07,329.47 205.36,329.68 205.64,329.9 205.92,330.13 206.2,330.36 206.48,330.58 206.76,330.8 207.04,331 207.32,331.19 207.6,331.38 207.88,331.55 208.16,331.73 208.44,331.9 208.72,332.07 209.01,332.24 209.29,332.41 209.57,332.58 209.85,332.76 210.13,332.93 210.41,333.1 210.69,333.27 210.97,333.45 211.25,333.62 211.53,333.8 211.81,333.98 212.09,334.16 212.38,334.35 212.66,334.55 212.94,334.74 213.22,334.94 213.5,335.14 213.78,335.34 214.06,335.54 214.34,335.74 214.62,335.94 214.9,336.14 215.18,336.35 215.46,336.56 215.74,336.76 216.03,336.97 216.31,337.17 216.59,337.37 216.87,337.57 217.15,337.76 217.43,337.95 217.71,338.13 217.99,338.3 218.27,338.47 218.55,338.64 218.83,338.8 219.11,338.96 219.4,339.11 219.68,339.27 219.96,339.43 220.24,339.59" fill="none" stroke="#2b4b7c" stroke-width="1.0" marker-start="url(#mci)" marker-mid="url(#mci)" marker-end="url(#mci)"/>
<polyline points="180.08,340.25 180.55,326.19 181.02,312.06 181.49,300.01 181.96,285.32 182.42,275.64 182.89,268.13 183.36,263.2 183.83,259.27 184.3,255.01 184.76,250.92 185.23,245.98 185.7,241.01 186.17,238.04 186.64,236.16 187.1,234.35 187.57,232.05 188.04,230.6 188.51,229.95 188.98,229.42 189.44,229.07 189.91,228.89 190.38,228.71 190.85,228.53 191.32,228.33 191.78,227.79 192.25,234.35 192.72,244.99 193.19,255.19 193.66,262.67 194.12,267.84 194.59,272.13 195.06,276.29 195.53,280.4 196,284.52 196.46,288.16 196.93,291.24 197.4,294.18 197.87,297.24 198.34,300.04 198.8,302.23 199.27,304.11 199.74,306.02 200.21,307.9 200.68,309.62 201.14,311.12 201.61,312.49 202.08,313.76 202.55,314.95 203.02,316.02 203.48,317 203.95,317.97 204.42,318.96 204.89,319.94 205.36,320.9 205.82,321.83 206.29,322.72 206.76,323.58 207.23,324.42 207.7,325.26 208.16,326.13 208.63,326.98 209.1,327.8 209.57,328.56 210.04,329.23 210.5,329.83 210.97,330.4 211.44,330.94 211.91,331.48 212.38,331.98 212.84,332.47 213.31,332.96 213.78,333.46 214.25,333.97 214.72,334.48 215.18,334.98 215.65,335.46 216.12,335.92 216.59,336.38 217.06,336.83 217.52,337.27 217.99,337.7 218.46,338.12 218.93,338.55 219.4,338.97 219.86,339.4 220.33,339.82" fill="none" stroke="#b01a1a" stroke-width="0.7" marker-start="url(#mtr)" marker-mid="url(#mtr)" marker-end="url(#mtr)"/>
<text x="37.9" y="289" font-size="8.5" font-weight="bold" fill="#111" stroke="#111" text-anchor="start">0.6 W/cm<tspan font-size="5.27" dy="-3.2">2</tspan></text>
<text x="76.6" y="262.7" font-size="8.5" font-weight="bold" fill="#111" stroke="#111" text-anchor="start">0.9 W/cm<tspan font-size="5.27" dy="-3.2">2</tspan></text>
<text x="127.6" y="235.8" font-size="8.5" font-weight="bold" fill="#111" stroke="#111" text-anchor="start">1.2 W/cm<tspan font-size="5.27" dy="-3.2">2</tspan></text>
<text x="172.9" y="224.1" font-size="8.5" font-weight="bold" fill="#111" stroke="#111" text-anchor="start">1.5 W/cm<tspan font-size="5.27" dy="-3.2">2</tspan></text>
<path d="M38.4,192.5H57.4" stroke="#c9a12e" stroke-width="1.0"/>
<circle cx="47.9" cy="192.5" r="1.4" fill="#c9a12e"/>
<text x="59.6" y="195.5" font-size="8.41" fill="#222" stroke="#222" style="stroke-width:0.14px">Interlocked cage <tspan font-weight="bold">5</tspan>(OTf)<tspan font-size="5.55" dy="1.8">12</tspan></text>
<path d="M38.4,202.5H57.4" stroke="#b31b1b" stroke-width="1.0"/>
<path d="M47.9,200.5l1.9,3.2h-3.8z" fill="#b31b1b"/>
<text x="59.6" y="204.9" font-size="8.41" fill="#222" stroke="#222" style="stroke-width:0.14px">Interlocked cage <tspan font-weight="bold">6</tspan>(OTf)<tspan font-size="5.55" dy="1.8">12</tspan></text>
<path d="M38.4,211.5H57.4" stroke="#2b4b7c" stroke-width="1.0"/>
<circle cx="47.9" cy="211.5" r="1.7" fill="#2b4b7c"/>
<text x="59.6" y="214.5" font-size="8.41" fill="#222" stroke="#222" style="stroke-width:0.14px">Interlocked cage <tspan font-weight="bold">7</tspan>(OTf)<tspan font-size="5.55" dy="1.8">12</tspan></text>
<rect x="36.6" y="187.4" width="185.8" height="155.8" fill="none" stroke="#3a3a3a" stroke-width="0.9"/>
<path d="M40.9,343.2v3 M87.7,343.2v3 M134.5,343.2v3 M181.3,343.2v3 M64.3,343.2v1.8 M111.1,343.2v1.8 M157.9,343.2v1.8 M204.7,343.2v1.8" stroke="#3a3a3a" stroke-width="0.9" fill="none"/>
<text x="40.9" y="357.2" font-size="10.9" text-anchor="middle" font-weight="normal" fill="#222" stroke="#222" >0</text>
<text x="87.7" y="357.2" font-size="10.9" text-anchor="middle" font-weight="normal" fill="#222" stroke="#222" >500</text>
<text x="134.5" y="357.2" font-size="10.9" text-anchor="middle" font-weight="normal" fill="#222" stroke="#222" >1000</text>
<text x="181.3" y="357.2" font-size="10.9" text-anchor="middle" font-weight="normal" fill="#222" stroke="#222" >1500</text>
<path d="M36.6,311.5h-3 M36.6,273.17h-3 M36.6,234.83h-3 M36.6,196.5h-3 M36.6,330.67h-1.8 M36.6,292.33h-1.8 M36.6,254h-1.8 M36.6,215.67h-1.8" stroke="#3a3a3a" stroke-width="0.9" fill="none"/>
<text x="31.2" y="315.2" font-size="10.9" text-anchor="end" font-weight="normal" fill="#222" stroke="#222" >40</text>
<text x="31.2" y="276.87" font-size="10.9" text-anchor="end" font-weight="normal" fill="#222" stroke="#222" >60</text>
<text x="31.2" y="238.53" font-size="10.9" text-anchor="end" font-weight="normal" fill="#222" stroke="#222" >80</text>
<text x="31.2" y="200.2" font-size="10.9" text-anchor="end" font-weight="normal" fill="#222" stroke="#222" >100</text>
<text x="0" y="0" transform="translate(12.7,265.2) rotate(-90)" font-size="10.4" text-anchor="middle" fill="#222" stroke="#222">Temperature (°C)</text>
<text x="129.5" y="367.1" font-size="10.7" text-anchor="middle" font-weight="normal" fill="#222" stroke="#222" >Time (s)</text>
</g>
<g>
<text x="234.7" y="192.3" font-size="17" text-anchor="start" font-weight="normal" fill="#222" stroke="#222" >e</text>
<polyline points="268.2,332.32 269.04,331.47 269.87,330.62 270.71,329.77 271.55,328.93 272.38,328.08 273.22,327.23 274.06,326.39 274.9,325.54 275.73,324.7 276.57,323.86 277.41,323.02 278.24,322.17 279.08,321.3 279.92,320.42 280.75,319.53 281.59,318.62 282.43,317.72 283.27,316.81 284.1,315.91 284.94,315.02 285.78,314.14 286.61,313.28 287.45,312.45 288.29,311.63 289.12,310.83 289.96,310.05 290.8,309.29 291.64,308.53 292.47,307.76 293.31,307.03 294.15,306.41 294.98,305.95 295.82,305.7 296.66,305.57 297.5,305.46 298.33,305.35 299.17,305.26 300.01,305.17 300.84,305.1 301.68,305.02 302.52,304.94 303.35,304.86 304.19,304.78 305.03,304.68 305.87,304.57 306.7,304.46 307.54,304.35 308.38,304.24 309.21,304.14 310.05,304.04 310.89,303.94 311.72,303.86 312.56,303.78 313.4,303.72 314.24,303.66 315.07,303.61 315.91,303.57 316.75,303.52 317.58,303.47 318.42,303.43 319.68,305.96 320.51,308.03 321.35,309.99 322.19,311.72 323.02,312.96 323.86,313.88 324.7,314.67 325.53,315.36 326.37,315.96 327.21,316.51 328.05,317.01 328.88,317.49 329.72,317.92 330.56,318.28 331.39,318.58 332.23,318.85 333.07,319.09 333.9,319.32 334.74,319.56 335.58,319.79 336.42,320.02 337.25,320.24 338.09,320.45 338.93,320.66 339.76,320.86 340.6,321.05 341.44,321.24 342.27,321.42 343.11,321.59 343.95,321.76 344.79,321.91 345.62,322.05 346.46,322.18 347.3,322.3 348.13,322.41 348.97,322.51 349.81,322.62 350.64,322.73 351.48,322.85 352.32,322.97 353.16,323.1 353.99,323.23 354.83,323.36 355.67,323.49 356.5,323.62 357.34,323.75 358.18,323.88 359.01,324.01 359.85,324.14 360.69,324.27 361.53,324.39 362.36,324.51 363.2,324.63 364.04,324.75 364.87,324.86 365.71,324.97 366.55,325.08 367.38,325.19 368.22,325.3 369.06,325.4 369.9,325.51 370.73,325.62 371.57,325.73 372.41,325.84 373.24,325.95 374.08,326.06 374.92,326.17 375.75,326.28 376.59,326.39 377.43,326.5 378.27,326.61 379.1,326.72 379.94,326.83 380.78,326.94 381.61,327.05 382.45,327.16 383.29,327.27 384.12,327.38 384.96,327.49 385.8,327.6 386.64,327.71 387.47,327.82 388.31,327.93 389.15,328.04 389.98,328.15 390.82,328.26 391.66,328.37 392.49,328.48 393.33,328.59 394.17,328.7 395.01,328.81 395.84,328.92 396.68,329.04 397.52,329.15 398.35,329.26 399.19,329.37 400.03,329.49 400.86,329.6 401.7,329.71 402.54,329.81 403.38,329.92 404.21,330.02 405.05,330.12 405.89,330.22 406.72,330.32 407.56,330.42 408.4,330.52 409.23,330.61 410.07,330.7 410.91,330.8 411.75,330.88 412.58,330.97 413.42,331.05 414.26,331.13 415.09,331.21 415.93,331.28 416.77,331.35 417.6,331.42 418.44,331.48 419.28,331.55 420.12,331.61 420.95,331.67 421.79,331.73 422.63,331.78 423.46,331.84 424.3,331.9 425.14,331.95 425.97,332.01 426.81,332.06 427.65,332.11 428.49,332.16 429.32,332.21 430.16,332.26 431,332.31 431.83,332.36 432.67,332.4 433.51,332.45 434.34,332.49 435.18,332.53 436.02,332.58 436.86,332.62 437.69,332.66 438.53,332.71 439.37,332.75" fill="none" stroke="#c9a12e" stroke-width="0.8" marker-start="url(#mye)" marker-mid="url(#mye)" marker-end="url(#mye)"/>
<polyline points="268.2,332.32 269.58,329.79 270.96,327.27 272.34,324.81 273.72,322.49 275.11,320.24 276.49,318 277.87,315.72 279.25,313.45 280.63,311.14 282.01,308.86 283.39,306.68 284.77,304.58 286.15,302.56 287.53,300.65 288.92,298.82 290.3,297.07 291.68,295.36 293.06,293.7 294.44,292.07 295.82,290.5 297.2,289.01 298.58,287.66 299.96,286.47 301.35,285.32 302.73,284.15 304.11,283 305.49,281.89 306.87,280.82 308.25,279.79 309.63,278.86 311.01,278.1 312.39,277.48 313.77,276.95 315.16,276.52 316.54,276.29 317.92,276.14 319.8,277.91 321.18,280.4 322.56,283.12 323.94,285.65 325.33,287.69 326.71,289.42 328.09,291.01 329.47,292.61 330.85,294.23 332.23,295.8 333.61,297.23 334.99,298.47 336.37,299.55 337.75,300.55 339.14,301.5 340.52,302.45 341.9,303.43 343.28,304.48 344.66,305.56 346.04,306.63 347.42,307.65 348.8,308.57 350.18,309.37 351.57,310.06 352.95,310.69 354.33,311.3 355.71,311.93 357.09,312.63 358.47,313.36 359.85,314.1 361.23,314.82 362.61,315.51 363.99,316.16 365.38,316.8 366.76,317.4 368.14,317.98 369.52,318.5 370.9,318.96 372.28,319.34 373.66,319.66 375.04,319.96 376.42,320.25 377.81,320.57 379.19,320.88 380.57,321.19 381.95,321.49 383.33,321.77 384.71,322.03 386.09,322.28 387.47,322.52 388.85,322.76 390.23,322.99 391.62,323.23 393,323.46 394.38,323.7 395.76,323.94 397.14,324.18 398.52,324.42 399.9,324.66 401.28,324.9 402.66,325.15 404.05,325.4 405.43,325.66 406.81,325.93 408.19,326.2 409.57,326.47 410.95,326.75 412.33,327.03 413.71,327.3 415.09,327.58 416.47,327.86 417.86,328.14 419.24,328.43 420.62,328.72 422,329 423.38,329.28 424.76,329.55 426.14,329.82 427.52,330.07 428.9,330.32 430.29,330.56 431.67,330.78 433.05,331.01 434.43,331.23 435.81,331.45 437.19,331.67 438.57,331.89" fill="none" stroke="#2b4b7c" stroke-width="0.8" marker-start="url(#mbt)" marker-mid="url(#mbt)" marker-end="url(#mbt)"/>
<polyline points="268.2,332.77 270.29,315.1 272.38,297.43 274.48,282.28 276.57,263.92 278.66,253.14 280.75,244.19 282.85,238.91 284.94,233.86 287.03,228.35 289.12,223.3 291.22,216.19 293.31,211.6 295.4,208.84 297.5,206.78 299.59,203.8 301.68,201.73 303.77,200.81 305.87,200.12 307.96,199.66 310.05,199.44 312.14,199.21 314.24,198.98 316.33,198.75 318.42,198.75 319.8,205.14 321.18,213.04 322.56,222.36 323.94,230.62 325.33,237.32 326.71,242.31 328.09,246.34 329.47,249.9 330.85,253.4 332.23,256.82 333.61,260.22 334.99,263.69 336.37,267.02 337.75,270.01 339.14,272.65 340.52,275.1 341.9,277.54 343.28,280.08 344.66,282.57 346.04,284.81 347.42,286.67 348.8,288.27 350.18,289.81 351.57,291.4 352.95,292.99 354.33,294.51 355.71,295.92 357.09,297.2 358.47,298.4 359.85,299.52 361.23,300.59 362.61,301.6 363.99,302.57 365.38,303.47 366.76,304.3 368.14,305.11 369.52,305.91 370.9,306.73 372.28,307.55 373.66,308.36 375.04,309.16 376.42,309.95 377.81,310.72 379.19,311.46 380.57,312.19 381.95,312.89 383.33,313.59 384.71,314.29 386.09,314.99 387.47,315.71 388.85,316.42 390.23,317.13 391.62,317.8 393,318.45 394.38,319.04 395.76,319.58 397.14,320.09 398.52,320.57 399.9,321.03 401.28,321.48 402.66,321.94 404.05,322.37 405.43,322.79 406.81,323.2 408.19,323.6 409.57,324.01 410.95,324.42 412.33,324.84 413.71,325.27 415.09,325.69 416.47,326.11 417.86,326.52 419.24,326.92 420.62,327.31 422,327.69 423.38,328.07 424.76,328.44 426.14,328.81 427.52,329.18 428.9,329.54 430.29,329.89 431.67,330.24 433.05,330.59 434.43,330.95 435.81,331.3 437.19,331.65 438.57,332.01" fill="none" stroke="#b31b1b" stroke-width="0.8" marker-start="url(#msq)" marker-mid="url(#msq)" marker-end="url(#msq)"/>
<text x="340" y="262" font-size="8.5" font-weight="bold" fill="#111" stroke="#111" text-anchor="start">1.5 W/cm<tspan font-size="5.27" dy="-3.2">2</tspan></text>
<path d="M332.5,193.5H349.9" stroke="#c9a12e" stroke-width="1.0"/>
<circle cx="341.2" cy="193.5" r="1.9" fill="#c9a12e"/>
<text x="353" y="195.9" font-size="8.3" fill="#222" stroke="#222" style="stroke-width:0.14px">Interlocked cage <tspan font-weight="bold">5</tspan>(OTf)<tspan font-size="5.48" dy="1.8">12</tspan></text>
<path d="M332.5,203.5H349.9" stroke="#b31b1b" stroke-width="1.0"/>
<rect x="339.5" y="201.8" width="3.4" height="3.4" fill="#b31b1b"/>
<text x="353" y="206" font-size="8.3" fill="#222" stroke="#222" style="stroke-width:0.14px">Interlocked cage <tspan font-weight="bold">6</tspan>(OTf)<tspan font-size="5.48" dy="1.8">12</tspan></text>
<path d="M332.5,213.5H349.9" stroke="#2b4b7c" stroke-width="1.0"/>
<path d="M341.2,211.4l2.1,3.5h-4.2z" fill="#2b4b7c"/>
<text x="353" y="216.7" font-size="8.3" fill="#222" stroke="#222" style="stroke-width:0.14px">Interlocked cage <tspan font-weight="bold">7</tspan>(OTf)<tspan font-size="5.48" dy="1.8">12</tspan></text>
<rect x="263.4" y="186.7" width="185.3" height="154.6" fill="none" stroke="#3a3a3a" stroke-width="0.9"/>
<path d="M268.2,341.3v3 M310.05,341.3v3 M351.9,341.3v3 M393.75,341.3v3 M435.6,341.3v3 M289.12,341.3v1.8 M330.98,341.3v1.8 M372.83,341.3v1.8 M414.68,341.3v1.8" stroke="#3a3a3a" stroke-width="0.9" fill="none"/>
<text x="268.2" y="354.9" font-size="10.3" text-anchor="middle" font-weight="normal" fill="#222" stroke="#222" >0</text>
<text x="310.05" y="354.9" font-size="10.3" text-anchor="middle" font-weight="normal" fill="#222" stroke="#222" >100</text>
<text x="351.9" y="354.9" font-size="10.3" text-anchor="middle" font-weight="normal" fill="#222" stroke="#222" >200</text>
<text x="393.75" y="354.9" font-size="10.3" text-anchor="middle" font-weight="normal" fill="#222" stroke="#222" >300</text>
<text x="435.6" y="354.9" font-size="10.3" text-anchor="middle" font-weight="normal" fill="#222" stroke="#222" >400</text>
<path d="M263.4,321.3h-3 M263.4,298.35h-3 M263.4,275.4h-3 M263.4,252.45h-3 M263.4,229.5h-3 M263.4,206.55h-3 M263.4,332.77h-1.8 M263.4,309.82h-1.8 M263.4,286.88h-1.8 M263.4,263.92h-1.8 M263.4,240.97h-1.8 M263.4,218.02h-1.8 M263.4,195.07h-1.8" stroke="#3a3a3a" stroke-width="0.9" fill="none"/>
<text x="257.9" y="325" font-size="10.3" text-anchor="end" font-weight="normal" fill="#222" stroke="#222" >30</text>
<text x="257.9" y="302.05" font-size="10.3" text-anchor="end" font-weight="normal" fill="#222" stroke="#222" >40</text>
<text x="257.9" y="279.1" font-size="10.3" text-anchor="end" font-weight="normal" fill="#222" stroke="#222" >50</text>
<text x="257.9" y="256.15" font-size="10.3" text-anchor="end" font-weight="normal" fill="#222" stroke="#222" >60</text>
<text x="257.9" y="233.2" font-size="10.3" text-anchor="end" font-weight="normal" fill="#222" stroke="#222" >70</text>
<text x="257.9" y="210.25" font-size="10.3" text-anchor="end" font-weight="normal" fill="#222" stroke="#222" >80</text>
<text x="0" y="0" transform="translate(242.7,263.2) rotate(-90)" font-size="10.4" text-anchor="middle" fill="#222" stroke="#222">Temperature (°C)</text>
<text x="356.6" y="364.5" font-size="10.4" text-anchor="middle" font-weight="normal" fill="#222" stroke="#222" >Time (s)</text>
</g>
<g>
<text x="3" y="378.7" font-size="16" text-anchor="start" font-weight="normal" fill="#222" stroke="#222" >g</text>
<g clip-path="url(#cg)">
<path d="M36,445 C37.5,445.33 42.33,446.92 45,447 C47.67,447.08 49.83,446.17 52,445.5 C54.17,444.83 55.83,443.17 58,443 C60.17,442.83 62.67,444 65,444.5 C67.33,445 69.83,446 72,446 C74.17,446 76,445 78,444.5 C80,444 82,444.25 84,443 C86,441.75 88.17,437.92 90,437 C91.83,436.08 93.33,437.33 95,437.5 C96.67,437.67 97.5,437.08 100,438 C102.5,438.92 107.5,441.5 110,443 C112.5,444.5 113.33,445.33 115,447 C116.67,448.67 118.33,451.25 120,453 C121.67,454.75 123.3,456 125,457.5 C126.7,459 128.37,460.17 130.2,462 C132.03,463.83 133.95,466.5 136,468.5 C138.05,470.5 140.33,472.92 142.5,474 C144.67,475.08 146.9,474.67 149,475 C151.1,475.33 152.57,475.53 155.1,476 C157.63,476.47 161.38,477.88 164.2,477.8 C167.02,477.72 169.3,476.18 172,475.5 C174.7,474.82 177.2,473.7 180.4,473.7 C183.6,473.7 187.93,475.45 191.2,475.5 C194.47,475.55 197.28,474.37 200,474 C202.72,473.63 205,473.38 207.5,473.3 C210,473.22 212.5,473.55 215,473.5 C217.5,473.45 221.25,473.08 222.5,473" stroke="#eee6a6" stroke-width="1" fill="none"/>
<path d="M36,436 C36.67,436.33 38.5,437.33 40,438 C41.5,438.67 43,440.17 45,440 C47,439.83 49.17,438.17 52,437 C54.83,435.83 58.67,433.83 62,433 C65.33,432.17 69.5,431.67 72,432 C74.5,432.33 75.67,434.17 77,435 C78.33,435.83 78.67,437 80,437 C81.33,437 83,435.17 85,435 C87,434.83 89.5,435.17 92,436 C94.5,436.83 97.33,439.33 100,440 C102.67,440.67 105.67,439.17 108,440 C110.33,440.83 112,443 114,445 C116,447 118.17,450 120,452 C121.83,454 123.3,455.33 125,457 C126.7,458.67 128.37,460 130.2,462 C132.03,464 133.95,466.97 136,469 C138.05,471.03 140.22,473.48 142.5,474.2 C144.78,474.92 147.45,473 149.7,473.3 C151.95,473.6 153.58,475.1 156,476 C158.42,476.9 161.33,477.95 164.2,478.7 C167.07,479.45 170.57,479.87 173.2,480.5 C175.83,481.13 177.9,481.88 180,482.5 C182.1,483.12 183.63,484.37 185.8,484.2 C187.97,484.03 190.58,482.27 193,481.5 C195.42,480.73 197.97,479.68 200.3,479.6 C202.63,479.52 204.6,480.55 207,481 C209.4,481.45 212.12,482.92 214.7,482.3 C217.28,481.68 221.2,478.13 222.5,477.3" stroke="#e8c84e" stroke-width="1" fill="none"/>
<path d="M36,437 C37.5,436.67 41.83,435.75 45,435 C48.17,434.25 51.67,433.17 55,432.5 C58.33,431.83 62.17,431.42 65,431 C67.83,430.58 69.7,430.35 72,430 C74.3,429.65 76.63,428.9 78.8,428.9 C80.97,428.9 82.8,429.57 85,430 C87.2,430.43 89.5,430.93 92,431.5 C94.5,432.07 97.5,432.18 100,433.4 C102.5,434.62 104.67,436.7 107,438.8 C109.33,440.9 111.83,443.73 114,446 C116.17,448.27 118.17,450.57 120,452.4 C121.83,454.23 123.3,455.4 125,457 C126.7,458.6 128.37,460.17 130.2,462 C132.03,463.83 133.95,466.12 136,468 C138.05,469.88 140.17,471.13 142.5,473.3 C144.83,475.47 147.6,478.88 150,481 C152.4,483.12 155.07,485.5 156.9,486 C158.73,486.5 159.48,484.77 161,484 C162.52,483.23 163.97,481.83 166,481.4 C168.03,480.97 171.2,481.22 173.2,481.4 C175.2,481.58 176.5,482.2 178,482.5 C179.5,482.8 180.53,483.2 182.2,483.2 C183.87,483.2 186.2,482.65 188,482.5 C189.8,482.35 190.95,482.93 193,482.3 C195.05,481.67 197.97,478.75 200.3,478.7 C202.63,478.65 204.6,480.63 207,482 C209.4,483.37 212.87,486.32 214.7,486.9 C216.53,487.48 216.7,486.12 218,485.5 C219.3,484.88 221.75,483.58 222.5,483.2" stroke="#b48a3c" stroke-width="1" fill="none"/>
<path d="M36,437.9 C37,437.67 40,437.03 42,436.5 C44,435.97 45.83,435.07 48,434.7 C50.17,434.33 52.58,434.12 55,434.3 C57.42,434.48 60.5,435.6 62.5,435.8 C64.5,436 65.5,435.9 67,435.5 C68.5,435.1 69.83,434.65 71.5,433.4 C73.17,432.15 74.88,430.25 77,428 C79.12,425.75 81.8,421.7 84.2,419.9 C86.6,418.1 89.43,418.02 91.4,417.2 C93.37,416.38 94.5,415.77 96,415 C97.5,414.23 99.07,412.85 100.4,412.6 C101.73,412.35 102.78,412.73 104,413.5 C105.22,414.27 106.03,414.95 107.7,417.2 C109.37,419.45 111.9,423.25 114,427 C116.1,430.75 118.47,435.87 120.3,439.7 C122.13,443.53 123.35,446.28 125,450 C126.65,453.72 128.53,458.33 130.2,462 C131.87,465.67 133.25,468.62 135,472 C136.75,475.38 138.7,479.13 140.7,482.3 C142.7,485.47 144.9,488.43 147,491 C149.1,493.57 151.47,496.37 153.3,497.7 C155.13,499.03 156.18,498.77 158,499 C159.82,499.23 162.27,499.23 164.2,499.1 C166.13,498.97 168.1,498.05 169.6,498.2 C171.1,498.35 171.97,499.95 173.2,500 C174.43,500.05 175.5,499.28 177,498.5 C178.5,497.72 179.83,496.93 182.2,495.3 C184.57,493.67 188.18,490.02 191.2,488.7 C194.22,487.38 198,487.77 200.3,487.4 C202.6,487.03 203.2,487.03 205,486.5 C206.8,485.97 209.27,484.62 211.1,484.2 C212.93,483.78 214.1,484.17 216,484 C217.9,483.83 221.42,483.33 222.5,483.2" stroke="#6e4c22" stroke-width="1" fill="none"/>
</g>
<clipPath id="cg"><rect x="35.9" y="368.4" width="186.6" height="157.6"/></clipPath>
<text x="129.9" y="455" font-size="8.2" text-anchor="start" font-weight="bold" fill="#8a6a34" stroke="#8a6a34" textLength="26.6" lengthAdjust="spacingAndGlyphs">730 nm</text>
<text x="220.8" y="469.6" font-size="8.2" text-anchor="end" font-weight="bold" fill="#8a6a34" stroke="#8a6a34" textLength="36.4" lengthAdjust="spacingAndGlyphs">1.53 times</text>
<path d="M37.1,375.5H54.6" stroke="#6e4c22" stroke-width="1.0"/>
<text x="56.5" y="378.4" font-size="7.56" fill="#222" stroke="none" style="stroke-width:0.14px">Interlocked cage <tspan font-weight="bold">5</tspan>(OTf)<tspan font-size="4.99" dy="1.8">12</tspan><tspan dy="-1.8"> light</tspan></text>
<path d="M37.1,384.5H54.6" stroke="#b48a3c" stroke-width="1.0"/>
<text x="56.5" y="387.5" font-size="7.56" fill="#222" stroke="none" style="stroke-width:0.14px">Interlocked cage <tspan font-weight="bold">5</tspan>(OTf)<tspan font-size="4.99" dy="1.8">12</tspan></text>
<path d="M37.1,394.5H54.6" stroke="#e8c84e" stroke-width="1.0"/>
<text x="56.5" y="396.9" font-size="7.56" fill="#222" stroke="none" style="stroke-width:0.14px">Building unti <tspan font-weight="bold">E1</tspan>(OTf)<tspan font-size="4.99" dy="1.8">2</tspan><tspan dy="-1.8"> light</tspan></text>
<path d="M37.1,402.5H54.6" stroke="#eee6a6" stroke-width="1.0"/>
<text x="56.5" y="405.8" font-size="7.56" fill="#222" stroke="none" style="stroke-width:0.14px">Building unti <tspan font-weight="bold">E1</tspan>(OTf)<tspan font-size="4.99" dy="1.8">2</tspan></text>
<rect x="35.9" y="368.4" width="186.6" height="157.6" fill="none" stroke="#3a3a3a" stroke-width="0.9"/>
<path d="M62.15,526v3 M115.6,526v3 M169.05,526v3 M222.5,526v3 M35.42,526v1.8 M88.88,526v1.8 M142.33,526v1.8 M195.77,526v1.8" stroke="#3a3a3a" stroke-width="0.9" fill="none"/>
<text x="62.15" y="539.6" font-size="10.3" text-anchor="middle" font-weight="normal" fill="#222" stroke="#222" >3510</text>
<text x="115.6" y="539.6" font-size="10.3" text-anchor="middle" font-weight="normal" fill="#222" stroke="#222" >3520</text>
<text x="169.05" y="539.6" font-size="10.3" text-anchor="middle" font-weight="normal" fill="#222" stroke="#222" >3530</text>
<text x="222.5" y="539.6" font-size="10.3" text-anchor="middle" font-weight="normal" fill="#222" stroke="#222" >3540</text>
<text x="0" y="0" transform="translate(27.7,448.5) rotate(-90)" font-size="10.4" text-anchor="middle" fill="#222" stroke="#222">Intensity (arb. units)</text>
<text x="130.5" y="549" font-size="10.4" text-anchor="middle" font-weight="normal" fill="#222" stroke="#222" >H (G)</text>
</g>
<g>
<text x="239.6" y="378.5" font-size="16" text-anchor="start" font-weight="normal" fill="#222" stroke="#222" >h</text>
<g clip-path="url(#ch)">
<path d="M264.1,456 C264.92,455.5 267.02,453 269,453 C270.98,453 273.5,455.92 276,456 C278.5,456.08 281.33,453.58 284,453.5 C286.67,453.42 289.33,455.33 292,455.5 C294.67,455.67 296.82,454.95 300,454.5 C303.18,454.05 306.82,453.33 311.1,452.8 C315.38,452.27 322.05,451.85 325.7,451.3 C329.35,450.75 330.62,449.55 333,449.5 C335.38,449.45 337.83,450.83 340,451 C342.17,451.17 344.17,449.83 346,450.5 C347.83,451.17 349.33,453.33 351,455 C352.67,456.67 354.33,459 356,460.5 C357.67,462 359.32,462.83 361,464 C362.68,465.17 363.75,466.3 366.1,467.5 C368.45,468.7 371.72,470.25 375.1,471.2 C378.48,472.15 382.63,472.8 386.4,473.2 C390.17,473.6 394.32,473.7 397.7,473.6 C401.08,473.5 403.7,472.67 406.7,472.6 C409.7,472.53 412.7,473.4 415.7,473.2 C418.7,473 421.32,472.07 424.7,471.4 C428.08,470.73 431.85,470.02 436,469.2 C440.15,468.38 447.33,466.95 449.6,466.5" stroke="#e8a4a4" stroke-width="1" fill="none"/>
<path d="M264.1,453.5 C265.08,453.83 267.68,455.33 270,455.5 C272.32,455.67 274.8,454.63 278,454.5 C281.2,454.37 285.75,454.53 289.2,454.7 C292.65,454.87 295.05,455.73 298.7,455.5 C302.35,455.27 306.6,453.92 311.1,453.3 C315.6,452.68 321.08,452.28 325.7,451.8 C330.32,451.32 335.63,450.27 338.8,450.4 C341.97,450.53 342.75,451.52 344.7,452.6 C346.65,453.68 348.62,455.5 350.5,456.9 C352.38,458.3 354.42,459.9 356,461 C357.58,462.1 358.32,462.58 360,463.5 C361.68,464.42 363.58,465.35 366.1,466.5 C368.62,467.65 371.72,469.45 375.1,470.4 C378.48,471.35 382.63,471.83 386.4,472.2 C390.17,472.57 394.32,472.78 397.7,472.6 C401.08,472.42 403.7,471.25 406.7,471.1 C409.7,470.95 412.7,471.9 415.7,471.7 C418.7,471.5 421.32,470.57 424.7,469.9 C428.08,469.23 431.85,468.45 436,467.7 C440.15,466.95 447.33,465.78 449.6,465.4" stroke="#e04444" stroke-width="1" fill="none"/>
<path d="M264.1,455.5 C265.85,455.37 270.9,454.9 274.6,454.7 C278.3,454.5 282.28,454.3 286.3,454.3 C290.32,454.3 295.05,455.03 298.7,454.7 C302.35,454.37 304.92,453.63 308.2,452.3 C311.48,450.97 315.23,448.73 318.4,446.7 C321.57,444.67 324.52,442.17 327.2,440.1 C329.88,438.03 332.2,435.75 334.5,434.3 C336.8,432.85 338.82,431.65 341,431.4 C343.18,431.15 345.53,431.7 347.6,432.8 C349.67,433.9 351.75,435.63 353.4,438 C355.05,440.37 355.95,441.68 357.5,447 C359.05,452.32 361.27,464.38 362.7,469.9 C364.13,475.42 364.78,476.9 366.1,480.1 C367.42,483.3 369.28,487.22 370.6,489.1 C371.92,490.98 372.68,491.4 374,491.4 C375.32,491.4 376.82,490.8 378.5,489.1 C380.18,487.4 382.03,483.65 384.1,481.2 C386.17,478.75 388.63,476.08 390.9,474.4 C393.17,472.72 395.45,471.77 397.7,471.1 C399.95,470.43 402.15,470.97 404.4,470.4 C406.65,469.83 408.57,468.53 411.2,467.7 C413.83,466.87 417.18,465.97 420.2,465.4 C423.22,464.83 426.28,464.67 429.3,464.3 C432.32,463.93 434.92,463.2 438.3,463.2 C441.68,463.2 447.72,464.12 449.6,464.3" stroke="#c42e2e" stroke-width="1" fill="none"/>
<path d="M264.1,446.4 C265.37,446.25 269.22,445.2 271.7,445.5 C274.18,445.8 276.08,447.07 279,448.2 C281.92,449.33 285.92,451.13 289.2,452.3 C292.48,453.47 296.02,454.97 298.7,455.2 C301.38,455.43 303.23,454.38 305.3,453.7 C307.37,453.02 308.92,452.75 311.1,451.1 C313.28,449.45 315.97,446.72 318.4,443.8 C320.83,440.88 323.27,437.25 325.7,433.6 C328.13,429.95 330.82,425.32 333,421.9 C335.18,418.48 337.1,414.98 338.8,413.1 C340.5,411.22 341.73,410.75 343.2,410.6 C344.67,410.45 346.23,410.97 347.6,412.2 C348.97,413.43 350.2,414.77 351.4,418 C352.6,421.23 353.67,426.52 354.8,431.6 C355.93,436.68 357.25,443.23 358.2,448.5 C359.15,453.77 359.57,457 360.5,463.2 C361.43,469.4 362.68,478.93 363.8,485.7 C364.92,492.47 366.07,499.1 367.2,503.8 C368.33,508.5 369.47,511.65 370.6,513.9 C371.73,516.15 372.87,517.3 374,517.3 C375.13,517.3 376.08,516.15 377.4,513.9 C378.72,511.65 380.02,507.37 381.9,503.8 C383.78,500.23 386.45,495.33 388.7,492.5 C390.95,489.67 393.15,488.3 395.4,486.8 C397.65,485.3 399.93,484.62 402.2,483.5 C404.47,482.38 406.75,481.42 409,480.1 C411.25,478.78 413.08,477.3 415.7,475.6 C418.32,473.9 421.32,471.42 424.7,469.9 C428.08,468.38 431.85,467.57 436,466.5 C440.15,465.43 447.33,464 449.6,463.5" stroke="#7a1818" stroke-width="1" fill="none"/>
</g>
<clipPath id="ch"><rect x="263.4" y="369.5" width="185.9" height="155.9"/></clipPath>
<text x="359.5" y="452.3" font-size="8.2" text-anchor="start" font-weight="bold" fill="#7a1a1a" stroke="#7a1a1a" textLength="26.3" lengthAdjust="spacingAndGlyphs">730 nm</text>
<text x="447.9" y="461" font-size="8.2" text-anchor="end" font-weight="bold" fill="#7a1a1a" stroke="#7a1a1a" textLength="37.9" lengthAdjust="spacingAndGlyphs">4.99 times</text>
<path d="M265.1,376.5H282.1" stroke="#7a1818" stroke-width="1.0"/>
<text x="284.9" y="379.5" font-size="7.49" fill="#222" stroke="none" style="stroke-width:0.14px">Interlocked cage <tspan font-weight="bold">6</tspan>(OTf)<tspan font-size="4.94" dy="1.8">12</tspan><tspan dy="-1.8"> light</tspan></text>
<path d="M265.1,386.5H282.1" stroke="#c42e2e" stroke-width="1.0"/>
<text x="284.9" y="388.9" font-size="7.49" fill="#222" stroke="none" style="stroke-width:0.14px">Interlocked cage <tspan font-weight="bold">6</tspan>(OTf)<tspan font-size="4.94" dy="1.8">12</tspan></text>
<path d="M265.1,395.5H282.1" stroke="#e04444" stroke-width="1.0"/>
<text x="284.9" y="398.5" font-size="7.49" fill="#222" stroke="none" style="stroke-width:0.14px">Building unit <tspan font-weight="bold">E2</tspan>(OTf)<tspan font-size="4.94" dy="1.8">2</tspan><tspan dy="-1.8"> light</tspan></text>
<path d="M265.1,405.5H282.1" stroke="#e8a4a4" stroke-width="1.0"/>
<text x="284.9" y="408.3" font-size="7.49" fill="#222" stroke="none" style="stroke-width:0.14px">Building unit <tspan font-weight="bold">E2</tspan>(OTf)<tspan font-size="4.94" dy="1.8">2</tspan></text>
<rect x="263.4" y="369.5" width="185.9" height="155.9" fill="none" stroke="#3a3a3a" stroke-width="0.9"/>
<path d="M263.4,525.4v3 M300.58,525.4v3 M337.76,525.4v3 M374.94,525.4v3 M412.12,525.4v3 M449.3,525.4v3 M281.99,525.4v1.8 M319.17,525.4v1.8 M356.35,525.4v1.8 M393.53,525.4v1.8 M430.71,525.4v1.8" stroke="#3a3a3a" stroke-width="0.9" fill="none"/>
<text x="263.4" y="539" font-size="10.3" text-anchor="middle" font-weight="normal" fill="#222" stroke="#222" >3490</text>
<text x="300.58" y="539" font-size="10.3" text-anchor="middle" font-weight="normal" fill="#222" stroke="#222" >3500</text>
<text x="337.76" y="539" font-size="10.3" text-anchor="middle" font-weight="normal" fill="#222" stroke="#222" >3510</text>
<text x="374.94" y="539" font-size="10.3" text-anchor="middle" font-weight="normal" fill="#222" stroke="#222" >3520</text>
<text x="412.12" y="539" font-size="10.3" text-anchor="middle" font-weight="normal" fill="#222" stroke="#222" >3530</text>
<text x="449.3" y="539" font-size="10.3" text-anchor="middle" font-weight="normal" fill="#222" stroke="#222" >3540</text>
<text x="0" y="0" transform="translate(255.3,448.1) rotate(-90)" font-size="10.4" text-anchor="middle" fill="#222" stroke="#222">Intensity (arb. units)</text>
<text x="356.5" y="548.4" font-size="10.4" text-anchor="middle" font-weight="normal" fill="#222" stroke="#222" >H (G)</text>
</g>
<g>
<text x="458.3" y="378.8" font-size="16" text-anchor="start" font-weight="normal" fill="#222" stroke="#222" >i</text>
<g clip-path="url(#ci)">
<path d="M484.5,469.3 C485.75,469.5 489.42,470.38 492,470.5 C494.58,470.62 497.33,469.92 500,470 C502.67,470.08 505.33,471.08 508,471 C510.67,470.92 512.87,469.93 516,469.5 C519.13,469.07 523.3,468.78 526.8,468.4 C530.3,468.02 533.83,467.77 537,467.2 C540.17,466.63 542.63,465.57 545.8,465 C548.97,464.43 552.83,464.17 556,463.8 C559.17,463.43 562.37,462.57 564.8,462.8 C567.23,463.03 568.42,463.92 570.6,465.2 C572.78,466.48 575.83,469.07 577.9,470.5 C579.97,471.93 581.23,472.75 583,473.8 C584.77,474.85 586.07,475.37 588.5,476.8 C590.93,478.23 594.58,480.9 597.6,482.4 C600.62,483.9 603.97,485.13 606.6,485.8 C609.23,486.47 611.15,486.47 613.4,486.4 C615.65,486.33 617.1,485.47 620.1,485.4 C623.1,485.33 627.63,485.7 631.4,486 C635.17,486.3 638.93,487.17 642.7,487.2 C646.47,487.23 649.12,486.23 654,486.2 C658.88,486.17 669,486.87 672,487" stroke="#b6d2f0" stroke-width="1" fill="none"/>
<path d="M484.5,470.1 C485.42,470 487.82,469.75 490,469.5 C492.18,469.25 495.1,468.43 497.6,468.6 C500.1,468.77 502.57,470.2 505,470.5 C507.43,470.8 508.57,470.83 512.2,470.4 C515.83,469.97 522.67,468.43 526.8,467.9 C530.93,467.37 533.83,467.82 537,467.2 C540.17,466.58 542.63,464.93 545.8,464.2 C548.97,463.47 552.83,463.17 556,462.8 C559.17,462.43 562.37,461.77 564.8,462 C567.23,462.23 568.42,462.85 570.6,464.2 C572.78,465.55 575.83,468.38 577.9,470.1 C579.97,471.82 581.23,473.2 583,474.5 C584.77,475.8 586.07,476.2 588.5,477.9 C590.93,479.6 594.58,483.02 597.6,484.7 C600.62,486.38 603.97,487.45 606.6,488 C609.23,488.55 611.15,488.37 613.4,488 C615.65,487.63 617.1,485.98 620.1,485.8 C623.1,485.62 627.63,486.45 631.4,486.9 C635.17,487.35 638.93,488.5 642.7,488.5 C646.47,488.5 649.12,486.98 654,486.9 C658.88,486.82 669,487.82 672,488" stroke="#5a92d6" stroke-width="1" fill="none"/>
<path d="M484.5,472.3 C486.68,472.17 492.98,471.75 497.6,471.5 C502.22,471.25 507.33,471.48 512.2,470.8 C517.07,470.12 522.67,468.13 526.8,467.4 C530.93,466.67 533.35,467.17 537,466.4 C540.65,465.63 544.8,464.02 548.7,462.8 C552.6,461.58 556.63,460.08 560.4,459.1 C564.17,458.12 568.63,456.77 571.3,456.9 C573.97,457.03 574.78,458.38 576.4,459.9 C578.02,461.42 579.35,463.57 581,466 C582.65,468.43 584.28,471.58 586.3,474.5 C588.32,477.42 590.85,481.17 593.1,483.5 C595.35,485.83 597.55,487.55 599.8,488.5 C602.05,489.45 604.33,489.47 606.6,489.2 C608.87,488.93 611.15,487.65 613.4,486.9 C615.65,486.15 617.1,485.45 620.1,484.7 C623.1,483.95 627.63,482.97 631.4,482.4 C635.17,481.83 638.93,481.87 642.7,481.3 C646.47,480.73 650.23,479.45 654,479 C657.77,478.55 662.3,478.8 665.3,478.6 C668.3,478.4 670.88,477.93 672,477.8" stroke="#3e5ca8" stroke-width="1" fill="none"/>
<path d="M484.5,471.5 C485.72,471.63 489.13,472.35 491.8,472.3 C494.47,472.25 497.1,471.45 500.5,471.2 C503.9,470.95 509.03,471.12 512.2,470.8 C515.37,470.48 517.07,469.87 519.5,469.3 C521.93,468.73 524.37,467.8 526.8,467.4 C529.23,467 531.67,467.67 534.1,466.9 C536.53,466.13 538.97,465.68 541.4,462.8 C543.83,459.92 546.27,454.47 548.7,449.6 C551.13,444.73 553.82,438.47 556,433.6 C558.18,428.73 560.1,423.82 561.8,420.4 C563.5,416.98 564.98,414.6 566.2,413.1 C567.42,411.6 567.88,411.15 569.1,411.4 C570.32,411.65 572.03,411.63 573.5,414.6 C574.97,417.57 576.32,422.47 577.9,429.2 C579.48,435.93 581.6,447.45 583,455 C584.4,462.55 585,467.87 586.3,474.5 C587.6,481.13 589.3,489.15 590.8,494.8 C592.3,500.45 593.6,504.82 595.3,508.4 C597,511.98 599.12,515.37 601,516.3 C602.88,517.23 604.53,515.7 606.6,514 C608.67,512.3 611.15,508.55 613.4,506.1 C615.65,503.65 617.85,501 620.1,499.3 C622.35,497.6 624.63,497.22 626.9,495.9 C629.17,494.58 631.43,492.33 633.7,491.4 C635.97,490.47 638.25,490.93 640.5,490.3 C642.75,489.67 644.95,488.28 647.2,487.6 C649.45,486.92 651.37,486.5 654,486.2 C656.63,485.9 660,485.67 663,485.8 C666,485.93 670.5,486.8 672,487" stroke="#1e2a40" stroke-width="1" fill="none"/>
</g>
<clipPath id="ci"><rect x="483.2" y="367.6" width="188.4" height="157.8"/></clipPath>
<text x="584.9" y="466.7" font-size="8.2" text-anchor="start" font-weight="bold" fill="#2a3850" stroke="#2a3850" textLength="27.2" lengthAdjust="spacingAndGlyphs">730 nm</text>
<text x="669.7" y="475.7" font-size="8.2" text-anchor="end" font-weight="bold" fill="#2a3850" stroke="#2a3850" textLength="37.6" lengthAdjust="spacingAndGlyphs">3.69 times</text>
<path d="M485.1,374.5H502.1" stroke="#1e2a40" stroke-width="1.0"/>
<text x="504.9" y="377.5" font-size="7.53" fill="#222" stroke="none" style="stroke-width:0.14px">Interlocked cage <tspan font-weight="bold">7</tspan>(OTf)<tspan font-size="4.97" dy="1.8">12</tspan><tspan dy="-1.8"> light</tspan></text>
<path d="M485.1,384.5H502.1" stroke="#3e5ca8" stroke-width="1.0"/>
<text x="504.9" y="387.3" font-size="7.53" fill="#222" stroke="none" style="stroke-width:0.14px">Interlocked cage <tspan font-weight="bold">7</tspan>(OTf)<tspan font-size="4.97" dy="1.8">12</tspan></text>
<path d="M485.1,393.5H502.1" stroke="#5a92d6" stroke-width="1.0"/>
<text x="504.9" y="396.5" font-size="7.53" fill="#222" stroke="none" style="stroke-width:0.14px">Building unit <tspan>E3</tspan>(OTf)<tspan font-size="4.97" dy="1.8">2</tspan><tspan dy="-1.8"> light</tspan></text>
<path d="M485.1,403.5H502.1" stroke="#b6d2f0" stroke-width="1.0"/>
<text x="504.9" y="406.3" font-size="7.53" fill="#222" stroke="none" style="stroke-width:0.14px">Building unit <tspan>E3</tspan>(OTf)<tspan font-size="4.97" dy="1.8">2</tspan></text>
<rect x="483.2" y="367.6" width="188.4" height="157.8" fill="none" stroke="#3a3a3a" stroke-width="0.9"/>
<path d="M483.2,525.4v3 M530.3,525.4v3 M577.4,525.4v3 M624.5,525.4v3 M671.6,525.4v3 M506.75,525.4v1.8 M553.85,525.4v1.8 M600.95,525.4v1.8 M648.05,525.4v1.8" stroke="#3a3a3a" stroke-width="0.9" fill="none"/>
<text x="483.2" y="539" font-size="10.3" text-anchor="middle" font-weight="normal" fill="#222" stroke="#222" >3490</text>
<text x="530.3" y="539" font-size="10.3" text-anchor="middle" font-weight="normal" fill="#222" stroke="#222" >3500</text>
<text x="577.4" y="539" font-size="10.3" text-anchor="middle" font-weight="normal" fill="#222" stroke="#222" >3510</text>
<text x="624.5" y="539" font-size="10.3" text-anchor="middle" font-weight="normal" fill="#222" stroke="#222" >3520</text>
<text x="671.6" y="539" font-size="10.3" text-anchor="middle" font-weight="normal" fill="#222" stroke="#222" >3530</text>
<text x="0" y="0" transform="translate(475.5,447.7) rotate(-90)" font-size="10.4" text-anchor="middle" fill="#222" stroke="#222">Intensity (arb. units)</text>
<text x="577.6" y="548.9" font-size="10.4" text-anchor="middle" font-weight="normal" fill="#222" stroke="#222" >H (G)</text>
</g>
<defs>
<filter id="b05" x="-50%" y="-50%" width="200%" height="200%"><feGaussianBlur stdDeviation="0.5"/></filter>
<filter id="b1" x="-50%" y="-50%" width="200%" height="200%"><feGaussianBlur stdDeviation="1"/></filter>
<filter id="b15" x="-50%" y="-50%" width="200%" height="200%"><feGaussianBlur stdDeviation="1.5"/></filter>
<filter id="b2" x="-50%" y="-50%" width="200%" height="200%"><feGaussianBlur stdDeviation="2"/></filter>
<filter id="b3" x="-50%" y="-50%" width="200%" height="200%"><feGaussianBlur stdDeviation="3"/></filter>
<filter id="b4" x="-50%" y="-50%" width="200%" height="200%"><feGaussianBlur stdDeviation="4"/></filter>
<filter id="b5" x="-50%" y="-50%" width="200%" height="200%"><feGaussianBlur stdDeviation="5"/></filter>
<clipPath id="cc"><rect x="0" y="0" width="51.3" height="50.9"/></clipPath>
<linearGradient id="g4" x1="0" y1="0" x2="0" y2="1">
 <stop offset="0" stop-color="#f0a434"/><stop offset="0.28" stop-color="#f0d442"/><stop offset="0.55" stop-color="#f0e868"/><stop offset="0.75" stop-color="#f2f2c0"/><stop offset="0.9" stop-color="#f4f6e2"/><stop offset="1" stop-color="#f2f0d0"/></linearGradient>
<linearGradient id="g5" x1="0" y1="0" x2="0" y2="1">
 <stop offset="0" stop-color="#e05a48"/><stop offset="0.1" stop-color="#ea7038"/><stop offset="0.3" stop-color="#f09030"/><stop offset="0.45" stop-color="#f0d040"/><stop offset="0.55" stop-color="#f0e8a0"/><stop offset="0.63" stop-color="#f2f2dc"/><stop offset="0.88" stop-color="#f2f2d8"/><stop offset="1" stop-color="#f0b048"/></linearGradient>
<linearGradient id="g6" x1="0" y1="0" x2="0" y2="1">
 <stop offset="0" stop-color="#f0a030"/><stop offset="0.25" stop-color="#f0d848"/><stop offset="0.6" stop-color="#f0f09c"/><stop offset="1" stop-color="#f0f0a0"/></linearGradient>
<linearGradient id="g7" x1="0" y1="0" x2="0" y2="1">
 <stop offset="0" stop-color="#e85048"/><stop offset="0.2" stop-color="#f08830"/><stop offset="0.45" stop-color="#f0d848"/><stop offset="0.85" stop-color="#f0ec80"/><stop offset="1" stop-color="#f0a040"/></linearGradient>
<linearGradient id="g8" x1="0" y1="0" x2="0" y2="1">
 <stop offset="0" stop-color="#e89030"/><stop offset="0.3" stop-color="#e8c848"/><stop offset="0.6" stop-color="#eada60"/><stop offset="1" stop-color="#eac850"/></linearGradient>
<linearGradient id="gcb" x1="0" y1="0" x2="0" y2="1">
 <stop offset="0" stop-color="#e8902a"/><stop offset="0.15" stop-color="#ea9a38"/><stop offset="0.3" stop-color="#edb262"/><stop offset="0.45" stop-color="#f2d4a2"/><stop offset="0.58" stop-color="#f7ecd0"/><stop offset="0.7" stop-color="#faf6e2"/><stop offset="1" stop-color="#fcfbea"/></linearGradient>
</defs>
<text x="457.5" y="192.2" font-size="16" text-anchor="start" font-weight="normal" fill="#222" stroke="#222" >f</text>
<rect x="470.5" y="185.0" width="156.2" height="154.7" fill="#e4e0ec"/>
<g transform="translate(471,185.5)"><g clip-path="url(#cc)"><rect x="0" y="0" width="52" height="51" fill="#c8417f" /><rect x="-8" y="-5" width="19" height="62" fill="#b03a92" filter="url(#b5)" /><rect x="-5" y="41" width="62" height="16" fill="#b03a86" filter="url(#b4)" opacity="0.6"/><rect x="-5" y="-8" width="62" height="12" fill="#c23c88" filter="url(#b4)" opacity="0.5"/><ellipse cx="22.8" cy="26.5" rx="12.5" ry="15" fill="#d4504e" filter="url(#b4)" /><ellipse cx="22.8" cy="31" rx="7" ry="7.5" fill="#da5c46" filter="url(#b3)" /></g>
<text x="48.8" y="49.7" font-size="9.4" text-anchor="end" fill="#fff">0 s</text></g>
<g transform="translate(523,185.5)"><g clip-path="url(#cc)"><rect x="0" y="0" width="52" height="51" fill="#8a24c4" /><rect x="-6" y="-5" width="17" height="62" fill="#6a20b6" filter="url(#b4)" /><rect x="9" y="6" width="27" height="36" fill="#b42ca8" filter="url(#b3)" /><rect x="11" y="13.5" width="23" height="24.5" fill="#ee6a32" filter="url(#b1)" /><rect x="13" y="17" width="18.5" height="19" fill="#f2c63c" filter="url(#b2)" /><ellipse cx="18" cy="28" rx="6" ry="7" fill="#eede44" filter="url(#b3)" /></g>
<text x="48.8" y="49.7" font-size="9.4" text-anchor="end" fill="#fff">50 s</text></g>
<g transform="translate(574.9,185.5)"><g clip-path="url(#cc)"><rect x="0" y="0" width="52" height="51" fill="#7a20c0" /><rect x="-6" y="-5" width="19" height="62" fill="#4c1aa8" filter="url(#b3)" /><rect x="37" y="-5" width="20" height="62" fill="#6a1eb8" filter="url(#b4)" /><rect x="11" y="11" width="26" height="35" fill="#b42ca8" filter="url(#b3)" /><rect x="13.5" y="19" width="21" height="23.5" fill="#ee6a30" filter="url(#b1)" /><rect x="15.5" y="23" width="17.5" height="18" fill="#f2d040" filter="url(#b15)" /><ellipse cx="24" cy="37" rx="7.5" ry="3.5" fill="#f2f2e6" filter="url(#b2)" /></g>
<text x="48.8" y="49.7" font-size="9.4" text-anchor="end" fill="#fff">100 s</text></g>
<g transform="translate(471,237)"><g clip-path="url(#cc)"><rect x="0" y="0" width="52" height="51" fill="#4c22aa" /><rect x="38" y="-5" width="18" height="35" fill="#6a26b4" filter="url(#b5)" /><rect x="11.5" y="-5" width="4" height="47" fill="#2a1488" filter="url(#b15)" /><rect x="36.5" y="-5" width="3.5" height="45" fill="#30168c" filter="url(#b15)" /><ellipse cx="26" cy="44" rx="27" ry="10" fill="#8a30b8" filter="url(#b4)" /><ellipse cx="26" cy="40" rx="19" ry="6.5" fill="#e65a40" filter="url(#b3)" /><rect x="14.5" y="-5" width="22.5" height="46" fill="#f07a34" filter="url(#b1)" /><rect x="16" y="-5" width="19.5" height="44" fill="url(#g4)" filter="url(#b1)" /><rect x="15.8" y="-5" width="1.4" height="42" fill="#fff2dc" filter="url(#b05)" /></g>
<text x="48.8" y="49.7" font-size="9.4" text-anchor="end" fill="#fff">150 s</text></g>
<g transform="translate(523,237)"><g clip-path="url(#cc)"><rect x="0" y="0" width="52" height="51" fill="#3e1a9e" /><rect x="36" y="-5" width="20" height="40" fill="#4a1ca8" filter="url(#b3)" /><ellipse cx="5" cy="45" rx="15" ry="10" fill="#7a28b8" filter="url(#b4)" /><rect x="33" y="-5" width="4" height="45" fill="#2c1490" filter="url(#b15)" /><ellipse cx="22" cy="38" rx="17" ry="6.5" fill="#e05840" filter="url(#b3)" /><rect x="10.2" y="-5" width="23.3" height="43.5" fill="#f07834" filter="url(#b1)" /><rect x="11.7" y="-5" width="20.3" height="42" fill="url(#g5)" filter="url(#b1)" /></g>
<text x="48.8" y="49.7" font-size="9.4" text-anchor="end" fill="#fff">200 s</text></g>
<g transform="translate(574.9,237)"><g clip-path="url(#cc)"><rect x="0" y="0" width="52" height="51" fill="#3c1aa0" /><ellipse cx="22" cy="45" rx="32" ry="10" fill="#7a28b8" filter="url(#b4)" /><ellipse cx="22" cy="37.5" rx="21" ry="7" fill="#e85840" filter="url(#b3)" /><rect x="9.8" y="-5" width="23.9" height="43.5" fill="#f07834" filter="url(#b1)" /><rect x="11.3" y="-5" width="20.9" height="42" fill="url(#g6)" filter="url(#b1)" /><rect x="11.2" y="-5" width="1.4" height="41" fill="#fff6e4" filter="url(#b05)" /></g>
<text x="48.8" y="49.7" font-size="9.4" text-anchor="end" fill="#fff">250 s</text></g>
<g transform="translate(471,288.7)"><g clip-path="url(#cc)"><rect x="0" y="0" width="52" height="51" fill="#5a22b0" /><rect x="5.5" y="5" width="4" height="35" fill="#36188e" filter="url(#b15)" /><rect x="31.5" y="5" width="4" height="35" fill="#3a1a94" filter="url(#b15)" /><rect x="9" y="4" width="23" height="38" fill="#b02ca8" filter="url(#b3)" /><rect x="9.2" y="9" width="22.5" height="32" fill="#f07030" filter="url(#b1)" /><rect x="10.7" y="10" width="19.5" height="30" fill="url(#g7)" filter="url(#b1)" /></g>
<text x="48.8" y="49.7" font-size="9.4" text-anchor="end" fill="#fff">300 s</text></g>
<g transform="translate(523,288.7)"><g clip-path="url(#cc)"><rect x="0" y="0" width="52" height="51" fill="#7a24c0" /><rect x="7" y="-5" width="4" height="40" fill="#4a1ca8" filter="url(#b15)" /><rect x="33" y="-5" width="3" height="40" fill="#5a20b0" filter="url(#b15)" /><ellipse cx="22" cy="38" rx="18" ry="6" fill="#e87040" filter="url(#b3)" /><rect x="11.2" y="-5" width="21.9" height="42.5" fill="#ec8a34" filter="url(#b1)" /><rect x="12.5" y="-5" width="19.3" height="41" fill="url(#g8)" filter="url(#b1)" /></g>
<text x="48.8" y="49.7" font-size="9.4" text-anchor="end" fill="#fff">350 s</text></g>
<g transform="translate(574.9,288.7)"><g clip-path="url(#cc)"><rect x="0" y="0" width="52" height="51" fill="#c84088" /><rect x="-8" y="-5" width="17" height="62" fill="#a83aa0" filter="url(#b4)" /><rect x="10.8" y="12.8" width="23.2" height="24.2" fill="#e67642" filter="url(#b2)" rx="3"/><ellipse cx="21" cy="28" rx="8" ry="7.5" fill="#ea9440" filter="url(#b3)" /></g>
<text x="48.8" y="49.7" font-size="9.4" text-anchor="end" fill="#fff">410 s</text></g>
<rect x="640.1" y="200.6" width="10.2" height="125" fill="url(#gcb)" />
<text x="631.4" y="197.9" font-size="9.4" text-anchor="start" font-weight="normal" fill="#222" stroke="#222" >25.0 °C</text>
<text x="650.9" y="232" font-size="9.4" text-anchor="start" font-weight="normal" fill="#222" stroke="#222" >40.0 °C</text>
<text x="650.9" y="262.1" font-size="9.4" text-anchor="start" font-weight="normal" fill="#222" stroke="#222" >55.0 °C</text>
<text x="650.9" y="291.9" font-size="9.4" text-anchor="start" font-weight="normal" fill="#222" stroke="#222" >70.0 °C</text>
<text x="631.7" y="335.2" font-size="9.4" text-anchor="start" font-weight="normal" fill="#222" stroke="#222" >85.0 °C</text>
<path d="M650.3,233.3H658M650.3,263.5H658M650.3,294H658" stroke="#444" stroke-width="0.8"/>
</svg>
</body></html>
